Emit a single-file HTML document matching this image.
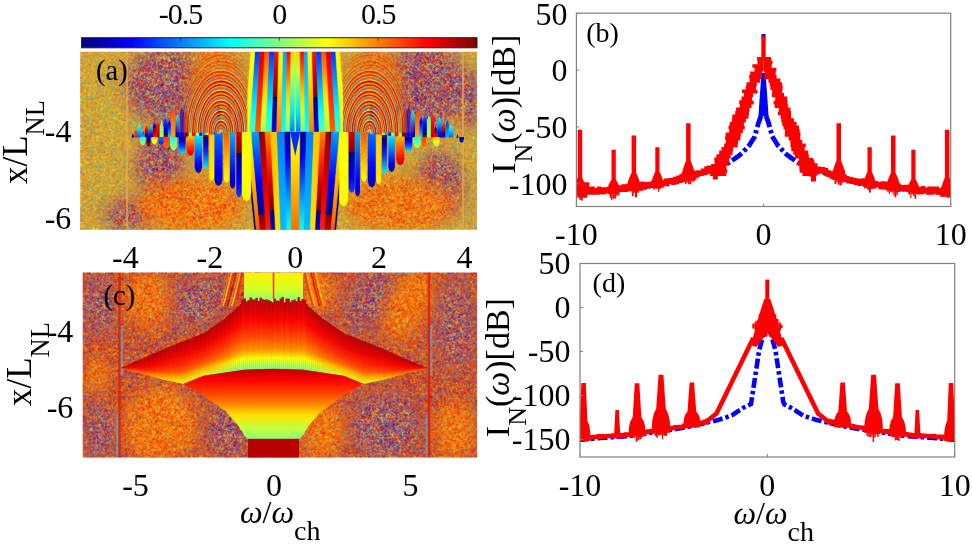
<!DOCTYPE html>
<html><head><meta charset="utf-8"><style>html,body{margin:0;padding:0;background:#fff;overflow:hidden}svg{display:block;will-change:transform;font-family:"Liberation Serif",serif}</style></head>
<body><svg width="972" height="544" viewBox="0 0 972 544" font-family="Liberation Serif"><defs><filter id="blur8" x="-50%" y="-50%" width="200%" height="200%"><feGaussianBlur stdDeviation="8"/></filter><filter id="blur4" x="-50%" y="-50%" width="200%" height="200%"><feGaussianBlur stdDeviation="4"/></filter><clipPath id="clipA"><rect x="80.2" y="51.8" width="396.8" height="177.89999999999998"/></clipPath><clipPath id="clipC"><rect x="82.7" y="272.5" width="394.40000000000003" height="185.10000000000002"/></clipPath><filter id="nP" x="0" y="0" width="100%" height="100%" color-interpolation-filters="sRGB"><feTurbulence type="fractalNoise" baseFrequency="0.75" numOctaves="1" seed="80"/><feColorMatrix type="matrix" values="2.6 0 0 0 -0.8 2.6 0 0 0 -0.8 2.6 0 0 0 -0.8 0 0 0 0 1"/><feComponentTransfer><feFuncR type="table" tableValues="0.00 0.00 1.00 1.00 0.75 0.50 0.63 0.38 1.00 1.00"/><feFuncG type="table" tableValues="0.00 0.75 0.88 0.13 0.19 0.38 0.00 0.31 1.00 0.38"/><feFuncB type="table" tableValues="0.75 1.00 0.00 0.00 0.31 0.82 0.00 0.75 0.25 0.00"/></feComponentTransfer><feConvolveMatrix order="3" kernelMatrix="0.05 0.1 0.05 0.1 0.4 0.1 0.05 0.1 0.05" edgeMode="duplicate"/></filter><filter id="nO" x="0" y="0" width="100%" height="100%" color-interpolation-filters="sRGB"><feTurbulence type="fractalNoise" baseFrequency="0.75" numOctaves="1" seed="79"/><feColorMatrix type="matrix" values="2.6 0 0 0 -0.8 2.6 0 0 0 -0.8 2.6 0 0 0 -0.8 0 0 0 0 1"/><feComponentTransfer><feFuncR type="table" tableValues="0.75 1.00 1.00 1.00 1.00 1.00 0.82 0.38"/><feFuncG type="table" tableValues="0.00 0.82 0.19 0.69 0.13 0.88 0.19 0.88"/><feFuncB type="table" tableValues="0.00 0.00 0.00 0.00 0.00 0.25 0.00 0.75"/></feComponentTransfer><feConvolveMatrix order="3" kernelMatrix="0.05 0.1 0.05 0.1 0.4 0.1 0.05 0.1 0.05" edgeMode="duplicate"/></filter><filter id="nY" x="0" y="0" width="100%" height="100%" color-interpolation-filters="sRGB"><feTurbulence type="fractalNoise" baseFrequency="0.75" numOctaves="1" seed="89"/><feColorMatrix type="matrix" values="2.6 0 0 0 -0.8 2.6 0 0 0 -0.8 2.6 0 0 0 -0.8 0 0 0 0 1"/><feComponentTransfer><feFuncR type="table" tableValues="1.00 0.75 1.00 0.38 1.00 0.88 0.63 1.00"/><feFuncG type="table" tableValues="0.82 0.50 0.69 0.75 0.50 0.88 0.38 0.63"/><feFuncB type="table" tableValues="0.00 0.25 0.00 0.63 0.00 0.25 0.38 0.13"/></feComponentTransfer><feConvolveMatrix order="3" kernelMatrix="0.05 0.1 0.05 0.1 0.4 0.1 0.05 0.1 0.05" edgeMode="duplicate"/></filter><filter id="nR" x="0" y="0" width="100%" height="100%" color-interpolation-filters="sRGB"><feTurbulence type="fractalNoise" baseFrequency="0.75" numOctaves="1" seed="82"/><feColorMatrix type="matrix" values="2.6 0 0 0 -0.8 2.6 0 0 0 -0.8 2.6 0 0 0 -0.8 0 0 0 0 1"/><feComponentTransfer><feFuncR type="table" tableValues="0.63 1.00 1.00 0.38 1.00 1.00 0.75 0.00"/><feFuncG type="table" tableValues="0.00 0.50 0.13 0.31 0.25 0.82 0.00 0.69"/><feFuncB type="table" tableValues="0.00 0.00 0.00 0.75 0.00 0.00 0.00 1.00"/></feComponentTransfer><feConvolveMatrix order="3" kernelMatrix="0.05 0.1 0.05 0.1 0.4 0.1 0.05 0.1 0.05" edgeMode="duplicate"/></filter><mask id="mPa" maskUnits="userSpaceOnUse" x="80.2" y="51.8" width="396.8" height="177.89999999999998"><g filter="url(#blur8)" fill="#fff"><ellipse cx="165" cy="85" rx="40" ry="40" transform="rotate(0 165 85)"/><ellipse cx="160" cy="165" rx="25" ry="35" transform="rotate(0 160 165)"/><ellipse cx="425" cy="85" rx="40" ry="45" transform="rotate(0 425 85)"/><ellipse cx="440" cy="185" rx="25" ry="35" transform="rotate(0 440 185)"/><ellipse cx="130" cy="215" rx="25" ry="18" transform="rotate(0 130 215)"/><ellipse cx="470" cy="100" rx="12" ry="30" transform="rotate(0 470 100)"/></g></mask><mask id="mOa" maskUnits="userSpaceOnUse" x="80.2" y="51.8" width="396.8" height="177.89999999999998"><g filter="url(#blur8)" fill="#fff"><ellipse cx="215" cy="80" rx="25" ry="35" transform="rotate(0 215 80)"/><ellipse cx="375" cy="80" rx="25" ry="35" transform="rotate(0 375 80)"/><ellipse cx="190" cy="205" rx="55" ry="28" transform="rotate(0 190 205)"/><ellipse cx="400" cy="205" rx="55" ry="28" transform="rotate(0 400 205)"/></g></mask><linearGradient id="g1" x1="0" y1="0" x2="0" y2="1"><stop offset="0.000" stop-color="#00aeff"/><stop offset="0.250" stop-color="#00b1ff"/><stop offset="0.500" stop-color="#00b4ff"/><stop offset="0.750" stop-color="#00b7ff"/><stop offset="1.000" stop-color="#00baff"/></linearGradient><linearGradient id="g2" x1="0" y1="0" x2="0" y2="1"><stop offset="0.000" stop-color="#ffbf00"/><stop offset="0.250" stop-color="#fffe00"/><stop offset="0.500" stop-color="#c1ff3d"/><stop offset="0.750" stop-color="#82ff7c"/><stop offset="1.000" stop-color="#43ffbb"/></linearGradient><linearGradient id="g3" x1="0" y1="0" x2="0" y2="1"><stop offset="0.000" stop-color="#000095"/><stop offset="0.250" stop-color="#0000b1"/><stop offset="0.500" stop-color="#0000cd"/><stop offset="0.750" stop-color="#0000e8"/><stop offset="1.000" stop-color="#0005ff"/></linearGradient><linearGradient id="g4" x1="0" y1="0" x2="0" y2="1"><stop offset="0.000" stop-color="#18ffe6"/><stop offset="0.250" stop-color="#00c3ff"/><stop offset="0.500" stop-color="#006fff"/><stop offset="0.750" stop-color="#001aff"/><stop offset="1.000" stop-color="#0000c5"/></linearGradient><linearGradient id="g5" x1="0" y1="0" x2="0" y2="1"><stop offset="0.000" stop-color="#ffcd00"/><stop offset="0.250" stop-color="#e5ff19"/><stop offset="0.500" stop-color="#9aff64"/><stop offset="0.750" stop-color="#4fffaf"/><stop offset="1.000" stop-color="#04fffa"/></linearGradient><linearGradient id="g6" x1="0" y1="0" x2="0" y2="1"><stop offset="0.000" stop-color="#870000"/><stop offset="0.250" stop-color="#c80000"/><stop offset="0.500" stop-color="#ff0a00"/><stop offset="0.750" stop-color="#ff4b00"/><stop offset="1.000" stop-color="#ff8c00"/></linearGradient><linearGradient id="g7" x1="0" y1="0" x2="0" y2="1"><stop offset="0.000" stop-color="#0076ff"/><stop offset="0.250" stop-color="#00a9ff"/><stop offset="0.500" stop-color="#00dbff"/><stop offset="0.750" stop-color="#0fffef"/><stop offset="1.000" stop-color="#41ffbd"/></linearGradient><linearGradient id="g8" x1="0" y1="0" x2="0" y2="1"><stop offset="0.000" stop-color="#ffe100"/><stop offset="0.250" stop-color="#ffb600"/><stop offset="0.500" stop-color="#ff8b00"/><stop offset="0.750" stop-color="#ff6000"/><stop offset="1.000" stop-color="#ff3600"/></linearGradient><linearGradient id="g9" x1="0" y1="0" x2="0" y2="1"><stop offset="0.000" stop-color="#810000"/><stop offset="0.005" stop-color="#800000"/><stop offset="0.007" stop-color="#00007f"/><stop offset="0.250" stop-color="#0000e2"/><stop offset="0.500" stop-color="#0049ff"/><stop offset="0.750" stop-color="#00afff"/><stop offset="1.000" stop-color="#16ffe8"/></linearGradient><linearGradient id="g10" x1="0" y1="0" x2="0" y2="1"><stop offset="0.000" stop-color="#00b6ff"/><stop offset="0.250" stop-color="#00a1ff"/><stop offset="0.500" stop-color="#008bff"/><stop offset="0.750" stop-color="#0076ff"/><stop offset="1.000" stop-color="#0060ff"/></linearGradient><linearGradient id="g11" x1="0" y1="0" x2="0" y2="1"><stop offset="0.000" stop-color="#ffd900"/><stop offset="0.250" stop-color="#ffb200"/><stop offset="0.500" stop-color="#ff8a00"/><stop offset="0.750" stop-color="#ff6200"/><stop offset="1.000" stop-color="#ff3b00"/></linearGradient><linearGradient id="g12" x1="0" y1="0" x2="0" y2="1"><stop offset="0.000" stop-color="#9b0000"/><stop offset="0.250" stop-color="#fe0000"/><stop offset="0.500" stop-color="#ff6100"/><stop offset="0.750" stop-color="#ffc400"/><stop offset="1.000" stop-color="#d7ff27"/></linearGradient><linearGradient id="g13" x1="0" y1="0" x2="0" y2="1"><stop offset="0.000" stop-color="#0035ff"/><stop offset="0.250" stop-color="#0054ff"/><stop offset="0.500" stop-color="#0072ff"/><stop offset="0.750" stop-color="#0091ff"/><stop offset="1.000" stop-color="#00b0ff"/></linearGradient><linearGradient id="g14" x1="0" y1="0" x2="0" y2="1"><stop offset="0.000" stop-color="#15ffe9"/><stop offset="0.250" stop-color="#00cfff"/><stop offset="0.500" stop-color="#008bff"/><stop offset="0.750" stop-color="#0046ff"/><stop offset="1.000" stop-color="#0002ff"/></linearGradient><linearGradient id="g15" x1="0" y1="0" x2="0" y2="1"><stop offset="0.000" stop-color="#ff9f00"/><stop offset="0.250" stop-color="#ffd200"/><stop offset="0.500" stop-color="#f8ff06"/><stop offset="0.750" stop-color="#c5ff39"/><stop offset="1.000" stop-color="#93ff6b"/></linearGradient><linearGradient id="g16" x1="0" y1="0" x2="0" y2="1"><stop offset="0.000" stop-color="#0000c6"/><stop offset="0.250" stop-color="#00008c"/><stop offset="0.306" stop-color="#00007f"/><stop offset="0.308" stop-color="#800000"/><stop offset="0.500" stop-color="#ac0000"/><stop offset="0.750" stop-color="#e60000"/><stop offset="1.000" stop-color="#ff2100"/></linearGradient><linearGradient id="g17" x1="0" y1="0" x2="0" y2="1"><stop offset="0.000" stop-color="#82ff7c"/><stop offset="0.250" stop-color="#81ff7d"/><stop offset="0.500" stop-color="#80ff7e"/><stop offset="0.750" stop-color="#7fff7f"/><stop offset="1.000" stop-color="#7eff80"/></linearGradient><linearGradient id="g18" x1="0" y1="0" x2="0" y2="1"><stop offset="0.000" stop-color="#ff0100"/><stop offset="0.250" stop-color="#e10000"/><stop offset="0.500" stop-color="#c20000"/><stop offset="0.750" stop-color="#a30000"/><stop offset="1.000" stop-color="#840000"/></linearGradient><linearGradient id="g19" x1="0" y1="0" x2="0" y2="1"><stop offset="0.000" stop-color="#0000d5"/><stop offset="0.250" stop-color="#0000e0"/><stop offset="0.500" stop-color="#0000ea"/><stop offset="0.750" stop-color="#0000f5"/><stop offset="1.000" stop-color="#0000ff"/></linearGradient><linearGradient id="g20" x1="0" y1="0" x2="0" y2="1"><stop offset="0.000" stop-color="#30ffce"/><stop offset="0.250" stop-color="#00ccff"/><stop offset="0.500" stop-color="#0069ff"/><stop offset="0.750" stop-color="#0006ff"/><stop offset="1.000" stop-color="#0000a3"/></linearGradient><linearGradient id="g21" x1="0" y1="0" x2="0" y2="1"><stop offset="0.000" stop-color="#ff4500"/><stop offset="0.250" stop-color="#ff5d00"/><stop offset="0.500" stop-color="#ff7600"/><stop offset="0.750" stop-color="#ff8e00"/><stop offset="1.000" stop-color="#ffa700"/></linearGradient><linearGradient id="g22" x1="0" y1="0" x2="0" y2="1"><stop offset="0.000" stop-color="#00008c"/><stop offset="0.250" stop-color="#0000e4"/><stop offset="0.500" stop-color="#003dff"/><stop offset="0.750" stop-color="#0094ff"/><stop offset="1.000" stop-color="#00ecff"/></linearGradient><linearGradient id="g23" x1="0" y1="0" x2="0" y2="1"><stop offset="0.000" stop-color="#0079ff"/><stop offset="0.250" stop-color="#0034ff"/><stop offset="0.500" stop-color="#0000ee"/><stop offset="0.750" stop-color="#0000a9"/><stop offset="0.900" stop-color="#00007f"/><stop offset="0.902" stop-color="#800000"/><stop offset="1.000" stop-color="#9a0000"/></linearGradient><linearGradient id="g24" x1="0" y1="0" x2="0" y2="1"><stop offset="0.000" stop-color="#6aff94"/><stop offset="0.250" stop-color="#78ff86"/><stop offset="0.500" stop-color="#87ff77"/><stop offset="0.750" stop-color="#95ff69"/><stop offset="1.000" stop-color="#a4ff5a"/></linearGradient><linearGradient id="g25" x1="0" y1="0" x2="0" y2="1"><stop offset="0.000" stop-color="#ff3400"/><stop offset="0.250" stop-color="#ff1700"/><stop offset="0.500" stop-color="#f80000"/><stop offset="0.750" stop-color="#db0000"/><stop offset="1.000" stop-color="#be0000"/></linearGradient><linearGradient id="g26" x1="0" y1="0" x2="0" y2="1"><stop offset="0.000" stop-color="#0000e4"/><stop offset="0.250" stop-color="#0000a4"/><stop offset="0.394" stop-color="#00007f"/><stop offset="0.396" stop-color="#800000"/><stop offset="0.500" stop-color="#9a0000"/><stop offset="0.750" stop-color="#d90000"/><stop offset="1.000" stop-color="#ff1a00"/></linearGradient><linearGradient id="g27" x1="0" y1="0" x2="0" y2="1"><stop offset="0.000" stop-color="#22ffdc"/><stop offset="0.250" stop-color="#00c8ff"/><stop offset="0.500" stop-color="#006fff"/><stop offset="0.750" stop-color="#0016ff"/><stop offset="1.000" stop-color="#0000bc"/></linearGradient><linearGradient id="g28" x1="0" y1="0" x2="0" y2="1"><stop offset="0.000" stop-color="#ff6900"/><stop offset="0.250" stop-color="#ff1900"/><stop offset="0.500" stop-color="#c80000"/><stop offset="0.729" stop-color="#800000"/><stop offset="0.731" stop-color="#00007f"/><stop offset="0.750" stop-color="#000085"/><stop offset="1.000" stop-color="#0000d5"/></linearGradient><linearGradient id="g29" x1="0" y1="0" x2="0" y2="1"><stop offset="0.000" stop-color="#002cff"/><stop offset="0.250" stop-color="#004eff"/><stop offset="0.500" stop-color="#0071ff"/><stop offset="0.750" stop-color="#0094ff"/><stop offset="1.000" stop-color="#00b6ff"/></linearGradient><linearGradient id="g30" x1="0" y1="0" x2="0" y2="1"><stop offset="0.000" stop-color="#4effb0"/><stop offset="0.250" stop-color="#11ffed"/><stop offset="0.500" stop-color="#00d4ff"/><stop offset="0.750" stop-color="#0097ff"/><stop offset="1.000" stop-color="#005aff"/></linearGradient><linearGradient id="g31" x1="0" y1="0" x2="0" y2="1"><stop offset="0.000" stop-color="#ff5600"/><stop offset="0.250" stop-color="#ff4300"/><stop offset="0.500" stop-color="#ff2f00"/><stop offset="0.750" stop-color="#ff1c00"/><stop offset="1.000" stop-color="#ff0800"/></linearGradient><linearGradient id="g32" x1="0" y1="0" x2="0" y2="1"><stop offset="0.000" stop-color="#0059ff"/><stop offset="0.250" stop-color="#0024ff"/><stop offset="0.500" stop-color="#0000ef"/><stop offset="0.750" stop-color="#0000ba"/><stop offset="1.000" stop-color="#000086"/></linearGradient><linearGradient id="g33" x1="0" y1="0" x2="0" y2="1"><stop offset="0.000" stop-color="#ffd200"/><stop offset="0.250" stop-color="#bfff3f"/><stop offset="0.500" stop-color="#53ffab"/><stop offset="0.750" stop-color="#00e6ff"/><stop offset="1.000" stop-color="#007aff"/></linearGradient><linearGradient id="g34" x1="0" y1="0" x2="0" y2="1"><stop offset="0.000" stop-color="#ff0000"/><stop offset="0.250" stop-color="#ff6300"/><stop offset="0.500" stop-color="#ffc500"/><stop offset="0.750" stop-color="#d5ff29"/><stop offset="1.000" stop-color="#73ff8b"/></linearGradient><linearGradient id="g35" x1="0" y1="0" x2="0" y2="1"><stop offset="0.000" stop-color="#00a2ff"/><stop offset="0.250" stop-color="#00beff"/><stop offset="0.500" stop-color="#00daff"/><stop offset="0.750" stop-color="#00f6ff"/><stop offset="1.000" stop-color="#13ffeb"/></linearGradient><linearGradient id="g36" x1="0" y1="0" x2="0" y2="1"><stop offset="0.000" stop-color="#ecff12"/><stop offset="0.250" stop-color="#ffec00"/><stop offset="0.500" stop-color="#ffc700"/><stop offset="0.750" stop-color="#ffa100"/><stop offset="1.000" stop-color="#ff7c00"/></linearGradient><linearGradient id="g37" x1="0" y1="0" x2="0" y2="1"><stop offset="0.000" stop-color="#ff1500"/><stop offset="0.250" stop-color="#d20000"/><stop offset="0.500" stop-color="#900000"/><stop offset="0.562" stop-color="#800000"/><stop offset="0.564" stop-color="#00007f"/><stop offset="0.750" stop-color="#0000b0"/><stop offset="1.000" stop-color="#0000f3"/></linearGradient><linearGradient id="g38" x1="0" y1="0" x2="0" y2="1"><stop offset="0.000" stop-color="#0034ff"/><stop offset="0.250" stop-color="#007dff"/><stop offset="0.500" stop-color="#00c5ff"/><stop offset="0.750" stop-color="#0fffef"/><stop offset="1.000" stop-color="#58ffa6"/></linearGradient><linearGradient id="g39" x1="0" y1="0" x2="0" y2="1"><stop offset="0.000" stop-color="#ff5300"/><stop offset="0.250" stop-color="#ff9700"/><stop offset="0.500" stop-color="#ffdb00"/><stop offset="0.750" stop-color="#deff20"/><stop offset="1.000" stop-color="#9aff64"/></linearGradient><linearGradient id="g40" x1="0" y1="0" x2="0" y2="1"><stop offset="0.000" stop-color="#db0000"/><stop offset="0.250" stop-color="#fd0000"/><stop offset="0.500" stop-color="#ff2000"/><stop offset="0.750" stop-color="#ff4100"/><stop offset="1.000" stop-color="#ff6300"/></linearGradient><linearGradient id="g41" x1="0" y1="0" x2="0" y2="1"><stop offset="0.000" stop-color="#0034ff"/><stop offset="0.250" stop-color="#0079ff"/><stop offset="0.500" stop-color="#00bfff"/><stop offset="0.750" stop-color="#05fff9"/><stop offset="1.000" stop-color="#4affb4"/></linearGradient><linearGradient id="g42" x1="0" y1="0" x2="0" y2="1"><stop offset="0.000" stop-color="#fcff02"/><stop offset="0.250" stop-color="#f4ff0a"/><stop offset="0.500" stop-color="#edff11"/><stop offset="0.750" stop-color="#e5ff19"/><stop offset="1.000" stop-color="#ddff21"/></linearGradient><clipPath id="domeclip"><path d="M80.0,40.0 L247.2,40.0 L247.2,132.5 L80.0,132.5Z M510.0,40.0 L343.2,40.0 L343.2,132.5 L510.0,132.5Z"/></clipPath><linearGradient id="g43" x1="0" y1="0" x2="0" y2="1"><stop offset="0.000" stop-color="#e9ff15"/><stop offset="0.250" stop-color="#ffe900"/><stop offset="0.500" stop-color="#ffbe00"/><stop offset="0.750" stop-color="#ff9300"/><stop offset="1.000" stop-color="#ff6800"/></linearGradient><linearGradient id="g44" x1="0" y1="0" x2="0" y2="1"><stop offset="0.000" stop-color="#000095"/><stop offset="0.250" stop-color="#0000f8"/><stop offset="0.500" stop-color="#005bff"/><stop offset="0.750" stop-color="#00beff"/><stop offset="1.000" stop-color="#21ffdd"/></linearGradient><linearGradient id="g45" x1="0" y1="0" x2="0" y2="1"><stop offset="0.000" stop-color="#0081ff"/><stop offset="0.250" stop-color="#0090ff"/><stop offset="0.500" stop-color="#00a0ff"/><stop offset="0.750" stop-color="#00afff"/><stop offset="1.000" stop-color="#00bfff"/></linearGradient><linearGradient id="g46" x1="0" y1="0" x2="0" y2="1"><stop offset="0.000" stop-color="#ffc400"/><stop offset="0.250" stop-color="#ffcb00"/><stop offset="0.500" stop-color="#ffd100"/><stop offset="0.750" stop-color="#ffd800"/><stop offset="1.000" stop-color="#ffde00"/></linearGradient><linearGradient id="g47" x1="0" y1="0" x2="0" y2="1"><stop offset="0.000" stop-color="#ff8400"/><stop offset="0.250" stop-color="#ff3100"/><stop offset="0.500" stop-color="#dc0000"/><stop offset="0.750" stop-color="#890000"/><stop offset="0.779" stop-color="#800000"/><stop offset="0.781" stop-color="#00007f"/><stop offset="1.000" stop-color="#0000c8"/></linearGradient><linearGradient id="g48" x1="0" y1="0" x2="0" y2="1"><stop offset="0.000" stop-color="#8d0000"/><stop offset="0.250" stop-color="#b20000"/><stop offset="0.500" stop-color="#d70000"/><stop offset="0.750" stop-color="#fc0000"/><stop offset="1.000" stop-color="#ff2100"/></linearGradient><linearGradient id="g49" x1="0" y1="0" x2="0" y2="1"><stop offset="0.000" stop-color="#00a1ff"/><stop offset="0.250" stop-color="#004aff"/><stop offset="0.500" stop-color="#0000f1"/><stop offset="0.750" stop-color="#000099"/><stop offset="0.824" stop-color="#00007f"/><stop offset="0.826" stop-color="#800000"/><stop offset="1.000" stop-color="#bc0000"/></linearGradient><linearGradient id="g50" x1="0" y1="0" x2="0" y2="1"><stop offset="0.000" stop-color="#ebff13"/><stop offset="0.250" stop-color="#ffe300"/><stop offset="0.500" stop-color="#ffb400"/><stop offset="0.750" stop-color="#ff8500"/><stop offset="1.000" stop-color="#ff5600"/></linearGradient><linearGradient id="g51" x1="0" y1="0" x2="0" y2="1"><stop offset="0.000" stop-color="#830000"/><stop offset="0.153" stop-color="#800000"/><stop offset="0.155" stop-color="#00007f"/><stop offset="0.250" stop-color="#000082"/><stop offset="0.500" stop-color="#000089"/><stop offset="0.750" stop-color="#00008f"/><stop offset="1.000" stop-color="#000096"/></linearGradient><linearGradient id="g52" x1="0" y1="0" x2="0" y2="1"><stop offset="0.000" stop-color="#f4ff0a"/><stop offset="0.250" stop-color="#f9ff05"/><stop offset="0.500" stop-color="#feff00"/><stop offset="0.750" stop-color="#fffa00"/><stop offset="1.000" stop-color="#fff600"/></linearGradient><linearGradient id="g53" x1="0" y1="0" x2="0" y2="1"><stop offset="0.000" stop-color="#db0000"/><stop offset="0.250" stop-color="#940000"/><stop offset="0.325" stop-color="#800000"/><stop offset="0.327" stop-color="#00007f"/><stop offset="0.500" stop-color="#0000b0"/><stop offset="0.750" stop-color="#0000f6"/><stop offset="1.000" stop-color="#003eff"/></linearGradient><linearGradient id="g54" x1="0" y1="0" x2="0" y2="1"><stop offset="0.000" stop-color="#00aeff"/><stop offset="0.250" stop-color="#0072ff"/><stop offset="0.500" stop-color="#0035ff"/><stop offset="0.750" stop-color="#0000f8"/><stop offset="1.000" stop-color="#0000bb"/></linearGradient><linearGradient id="g55" x1="0" y1="0" x2="0" y2="1"><stop offset="0.000" stop-color="#ff5500"/><stop offset="0.250" stop-color="#ff8300"/><stop offset="0.500" stop-color="#ffb100"/><stop offset="0.750" stop-color="#ffde00"/><stop offset="1.000" stop-color="#f1ff0d"/></linearGradient><linearGradient id="g56" x1="0" y1="0" x2="0" y2="1"><stop offset="0.000" stop-color="#006dff"/><stop offset="0.250" stop-color="#0042ff"/><stop offset="0.500" stop-color="#0017ff"/><stop offset="0.750" stop-color="#0000eb"/><stop offset="1.000" stop-color="#0000bf"/></linearGradient><linearGradient id="g57" x1="0" y1="0" x2="0" y2="1"><stop offset="0.000" stop-color="#ffcb00"/><stop offset="0.250" stop-color="#ffd400"/><stop offset="0.500" stop-color="#ffde00"/><stop offset="0.750" stop-color="#ffe700"/><stop offset="1.000" stop-color="#fff100"/></linearGradient><linearGradient id="g58" x1="0" y1="0" x2="0" y2="1"><stop offset="0.000" stop-color="#950000"/><stop offset="0.055" stop-color="#800000"/><stop offset="0.057" stop-color="#00007f"/><stop offset="0.250" stop-color="#0000cc"/><stop offset="0.500" stop-color="#002fff"/><stop offset="0.750" stop-color="#0092ff"/><stop offset="1.000" stop-color="#00f5ff"/></linearGradient><linearGradient id="g59" x1="0" y1="0" x2="0" y2="1"><stop offset="0.000" stop-color="#00eeff"/><stop offset="0.250" stop-color="#00a0ff"/><stop offset="0.500" stop-color="#0051ff"/><stop offset="0.750" stop-color="#0002ff"/><stop offset="1.000" stop-color="#0000b3"/></linearGradient><linearGradient id="g60" x1="0" y1="0" x2="0" y2="1"><stop offset="0.000" stop-color="#ffba00"/><stop offset="0.250" stop-color="#ff7e00"/><stop offset="0.500" stop-color="#ff4300"/><stop offset="0.750" stop-color="#ff0800"/><stop offset="1.000" stop-color="#cb0000"/></linearGradient><linearGradient id="g61" x1="0" y1="0" x2="0" y2="1"><stop offset="0.000" stop-color="#850000"/><stop offset="0.015" stop-color="#800000"/><stop offset="0.017" stop-color="#00007f"/><stop offset="0.250" stop-color="#0000da"/><stop offset="0.500" stop-color="#003dff"/><stop offset="0.750" stop-color="#009eff"/><stop offset="1.000" stop-color="#01fffd"/></linearGradient><linearGradient id="g62" x1="0" y1="0" x2="0" y2="1"><stop offset="0.000" stop-color="#0afff4"/><stop offset="0.250" stop-color="#38ffc6"/><stop offset="0.500" stop-color="#66ff98"/><stop offset="0.750" stop-color="#93ff6b"/><stop offset="1.000" stop-color="#c1ff3d"/></linearGradient><linearGradient id="g63" x1="0" y1="0" x2="0" y2="1"><stop offset="0.000" stop-color="#ff3b00"/><stop offset="0.250" stop-color="#ff4900"/><stop offset="0.500" stop-color="#ff5700"/><stop offset="0.750" stop-color="#ff6500"/><stop offset="1.000" stop-color="#ff7300"/></linearGradient><linearGradient id="g64" x1="0" y1="0" x2="0" y2="1"><stop offset="0.000" stop-color="#0075ff"/><stop offset="0.250" stop-color="#005eff"/><stop offset="0.500" stop-color="#0046ff"/><stop offset="0.750" stop-color="#002eff"/><stop offset="1.000" stop-color="#0016ff"/></linearGradient><linearGradient id="g65" x1="0" y1="0" x2="0" y2="1"><stop offset="0.000" stop-color="#ffae00"/><stop offset="0.250" stop-color="#ffdd00"/><stop offset="0.500" stop-color="#f1ff0d"/><stop offset="0.750" stop-color="#c2ff3c"/><stop offset="1.000" stop-color="#94ff6a"/></linearGradient><linearGradient id="g66" x1="0" y1="0" x2="0" y2="1"><stop offset="0.000" stop-color="#0000a1"/><stop offset="0.250" stop-color="#000092"/><stop offset="0.500" stop-color="#000082"/><stop offset="0.550" stop-color="#00007f"/><stop offset="0.552" stop-color="#800000"/><stop offset="0.750" stop-color="#8b0000"/><stop offset="1.000" stop-color="#9b0000"/></linearGradient><linearGradient id="g67" x1="0" y1="0" x2="0" y2="1"><stop offset="0.000" stop-color="#12ffec"/><stop offset="0.250" stop-color="#39ffc5"/><stop offset="0.500" stop-color="#61ff9d"/><stop offset="0.750" stop-color="#88ff76"/><stop offset="1.000" stop-color="#b0ff4e"/></linearGradient><linearGradient id="g68" x1="0" y1="0" x2="0" y2="1"><stop offset="0.000" stop-color="#ffb100"/><stop offset="0.250" stop-color="#ff7c00"/><stop offset="0.500" stop-color="#ff4700"/><stop offset="0.750" stop-color="#ff1200"/><stop offset="1.000" stop-color="#dd0000"/></linearGradient><linearGradient id="g69" x1="0" y1="0" x2="0" y2="1"><stop offset="0.000" stop-color="#0000b8"/><stop offset="0.250" stop-color="#0000cd"/><stop offset="0.500" stop-color="#0000e2"/><stop offset="0.750" stop-color="#0000f6"/><stop offset="1.000" stop-color="#000cff"/></linearGradient><mask id="mPc" maskUnits="userSpaceOnUse" x="82.7" y="272.5" width="394.40000000000003" height="185.10000000000002"><g filter="url(#blur8)" fill="#fff"><ellipse cx="100" cy="305" rx="16" ry="30" transform="rotate(0 100 305)"/><ellipse cx="100" cy="430" rx="16" ry="28" transform="rotate(0 100 430)"/><ellipse cx="200" cy="300" rx="32" ry="22" transform="rotate(-20 200 300)"/><ellipse cx="228" cy="428" rx="22" ry="32" transform="rotate(0 228 428)"/><ellipse cx="370" cy="300" rx="22" ry="35" transform="rotate(25 370 300)"/><ellipse cx="385" cy="425" rx="35" ry="35" transform="rotate(0 385 425)"/><ellipse cx="455" cy="325" rx="20" ry="45" transform="rotate(0 455 325)"/></g></mask><mask id="mYc" maskUnits="userSpaceOnUse" x="82.7" y="272.5" width="394.40000000000003" height="185.10000000000002"><g filter="url(#blur8)" fill="#fff"><ellipse cx="148" cy="300" rx="22" ry="30" transform="rotate(0 148 300)"/><ellipse cx="160" cy="425" rx="38" ry="38" transform="rotate(0 160 425)"/></g></mask><mask id="mOc" maskUnits="userSpaceOnUse" x="82.7" y="272.5" width="394.40000000000003" height="185.10000000000002"><g filter="url(#blur8)" fill="#fff"><ellipse cx="98" cy="375" rx="14" ry="18" transform="rotate(0 98 375)"/><ellipse cx="322" cy="430" rx="22" ry="30" transform="rotate(0 322 430)"/><ellipse cx="408" cy="305" rx="20" ry="40" transform="rotate(25 408 305)"/><ellipse cx="455" cy="430" rx="20" ry="30" transform="rotate(0 455 430)"/><ellipse cx="318" cy="290" rx="18" ry="22" transform="rotate(25 318 290)"/></g></mask><linearGradient id="g70" gradientUnits="userSpaceOnUse" x1="0" y1="272" x2="0" y2="302"><stop offset="0.000" stop-color="#fff000"/><stop offset="0.600" stop-color="#d2ff28"/><stop offset="1.000" stop-color="#82ff78"/></linearGradient><linearGradient id="g71" x1="0" y1="0" x2="0" y2="1"><stop offset="0.000" stop-color="#b20000"/><stop offset="0.300" stop-color="#d40000"/><stop offset="0.550" stop-color="#f60000"/><stop offset="0.720" stop-color="#ff1700"/><stop offset="0.840" stop-color="#ff4600"/><stop offset="1.000" stop-color="#ff7f00"/></linearGradient><linearGradient id="g72" x1="0" y1="0" x2="0" y2="1"><stop offset="0.000" stop-color="#b20000"/><stop offset="0.300" stop-color="#d50000"/><stop offset="0.550" stop-color="#f80000"/><stop offset="0.720" stop-color="#ff1a00"/><stop offset="0.840" stop-color="#ff4c00"/><stop offset="1.000" stop-color="#ff8600"/></linearGradient><linearGradient id="g73" x1="0" y1="0" x2="0" y2="1"><stop offset="0.000" stop-color="#b20000"/><stop offset="0.300" stop-color="#d80000"/><stop offset="0.550" stop-color="#fd0000"/><stop offset="0.720" stop-color="#ff2200"/><stop offset="0.840" stop-color="#ff5700"/><stop offset="1.000" stop-color="#ff9600"/></linearGradient><linearGradient id="g74" x1="0" y1="0" x2="0" y2="1"><stop offset="0.000" stop-color="#b20000"/><stop offset="0.300" stop-color="#d90000"/><stop offset="0.550" stop-color="#ff0100"/><stop offset="0.720" stop-color="#ff2600"/><stop offset="0.840" stop-color="#ff5c00"/><stop offset="1.000" stop-color="#ff9d00"/></linearGradient><linearGradient id="g75" x1="0" y1="0" x2="0" y2="1"><stop offset="0.000" stop-color="#b20000"/><stop offset="0.300" stop-color="#da0000"/><stop offset="0.550" stop-color="#ff0400"/><stop offset="0.720" stop-color="#ff2900"/><stop offset="0.840" stop-color="#ff6200"/><stop offset="1.000" stop-color="#ffa500"/></linearGradient><linearGradient id="g76" x1="0" y1="0" x2="0" y2="1"><stop offset="0.000" stop-color="#b20000"/><stop offset="0.300" stop-color="#dc0000"/><stop offset="0.550" stop-color="#ff0600"/><stop offset="0.720" stop-color="#ff2d00"/><stop offset="0.840" stop-color="#ff6800"/><stop offset="1.000" stop-color="#ffad00"/></linearGradient><linearGradient id="g77" x1="0" y1="0" x2="0" y2="1"><stop offset="0.000" stop-color="#b20000"/><stop offset="0.300" stop-color="#de0000"/><stop offset="0.550" stop-color="#ff0c00"/><stop offset="0.720" stop-color="#ff3500"/><stop offset="0.840" stop-color="#ff7300"/><stop offset="1.000" stop-color="#ffbd00"/></linearGradient><linearGradient id="g78" x1="0" y1="0" x2="0" y2="1"><stop offset="0.000" stop-color="#b20000"/><stop offset="0.300" stop-color="#e00000"/><stop offset="0.550" stop-color="#ff0e00"/><stop offset="0.720" stop-color="#ff3900"/><stop offset="0.840" stop-color="#ff7900"/><stop offset="1.000" stop-color="#ffc500"/></linearGradient><linearGradient id="g79" x1="0" y1="0" x2="0" y2="1"><stop offset="0.000" stop-color="#b20000"/><stop offset="0.300" stop-color="#e10000"/><stop offset="0.550" stop-color="#ff1100"/><stop offset="0.720" stop-color="#ff3d00"/><stop offset="0.840" stop-color="#ff7e00"/><stop offset="1.000" stop-color="#ffcc00"/></linearGradient><linearGradient id="g80" x1="0" y1="0" x2="0" y2="1"><stop offset="0.000" stop-color="#b20000"/><stop offset="0.300" stop-color="#e30000"/><stop offset="0.550" stop-color="#ff1600"/><stop offset="0.720" stop-color="#ff4400"/><stop offset="0.840" stop-color="#ff8900"/><stop offset="1.000" stop-color="#ffdb00"/></linearGradient><linearGradient id="g81" x1="0" y1="0" x2="0" y2="1"><stop offset="0.000" stop-color="#b20000"/><stop offset="0.300" stop-color="#e40000"/><stop offset="0.550" stop-color="#ff1800"/><stop offset="0.720" stop-color="#ff4700"/><stop offset="0.840" stop-color="#ff8d00"/><stop offset="1.000" stop-color="#ffe100"/></linearGradient><linearGradient id="g82" x1="0" y1="0" x2="0" y2="1"><stop offset="0.000" stop-color="#b20000"/><stop offset="0.300" stop-color="#e70000"/><stop offset="0.550" stop-color="#ff1c00"/><stop offset="0.720" stop-color="#ff4d00"/><stop offset="0.840" stop-color="#ff9700"/><stop offset="1.000" stop-color="#ffee00"/></linearGradient><linearGradient id="g83" x1="0" y1="0" x2="0" y2="1"><stop offset="0.000" stop-color="#b20000"/><stop offset="0.300" stop-color="#e80000"/><stop offset="0.550" stop-color="#ff1e00"/><stop offset="0.720" stop-color="#ff5000"/><stop offset="0.840" stop-color="#ff9b00"/><stop offset="1.000" stop-color="#fff500"/></linearGradient><linearGradient id="g84" x1="0" y1="0" x2="0" y2="1"><stop offset="0.000" stop-color="#b20000"/><stop offset="0.300" stop-color="#ea0000"/><stop offset="0.550" stop-color="#ff2200"/><stop offset="0.720" stop-color="#ff5600"/><stop offset="0.840" stop-color="#ffa400"/><stop offset="1.000" stop-color="#fcff02"/></linearGradient><linearGradient id="g85" x1="0" y1="0" x2="0" y2="1"><stop offset="0.000" stop-color="#b20000"/><stop offset="0.300" stop-color="#ec0000"/><stop offset="0.550" stop-color="#ff2700"/><stop offset="0.720" stop-color="#ff5d00"/><stop offset="0.840" stop-color="#ffae00"/><stop offset="1.000" stop-color="#efff0f"/></linearGradient><linearGradient id="g86" x1="0" y1="0" x2="0" y2="1"><stop offset="0.000" stop-color="#b20000"/><stop offset="0.300" stop-color="#ed0000"/><stop offset="0.550" stop-color="#ff2900"/><stop offset="0.720" stop-color="#ff6000"/><stop offset="0.840" stop-color="#ffb200"/><stop offset="1.000" stop-color="#e9ff15"/></linearGradient><linearGradient id="g87" x1="0" y1="0" x2="0" y2="1"><stop offset="0.000" stop-color="#b20000"/><stop offset="0.300" stop-color="#ef0000"/><stop offset="0.550" stop-color="#ff2c00"/><stop offset="0.720" stop-color="#ff6500"/><stop offset="0.840" stop-color="#ffb900"/><stop offset="1.000" stop-color="#dfff1f"/></linearGradient><linearGradient id="g88" x1="0" y1="0" x2="0" y2="1"><stop offset="0.000" stop-color="#b20000"/><stop offset="0.300" stop-color="#f10000"/><stop offset="0.550" stop-color="#ff3000"/><stop offset="0.720" stop-color="#ff6a00"/><stop offset="0.840" stop-color="#ffc200"/><stop offset="1.000" stop-color="#d3ff2b"/></linearGradient><linearGradient id="g89" x1="0" y1="0" x2="0" y2="1"><stop offset="0.000" stop-color="#b20000"/><stop offset="0.300" stop-color="#f30000"/><stop offset="0.550" stop-color="#ff3400"/><stop offset="0.720" stop-color="#ff7000"/><stop offset="0.840" stop-color="#ffca00"/><stop offset="1.000" stop-color="#c7ff37"/></linearGradient><linearGradient id="g90" x1="0" y1="0" x2="0" y2="1"><stop offset="0.000" stop-color="#b20000"/><stop offset="0.300" stop-color="#f40000"/><stop offset="0.550" stop-color="#ff3600"/><stop offset="0.720" stop-color="#ff7300"/><stop offset="0.840" stop-color="#ffcf00"/><stop offset="1.000" stop-color="#c1ff3d"/></linearGradient><linearGradient id="g91" x1="0" y1="0" x2="0" y2="1"><stop offset="0.000" stop-color="#b20000"/><stop offset="0.300" stop-color="#f60000"/><stop offset="0.550" stop-color="#ff3a00"/><stop offset="0.720" stop-color="#ff7900"/><stop offset="0.840" stop-color="#ffd700"/><stop offset="1.000" stop-color="#b5ff49"/></linearGradient><linearGradient id="g92" x1="0" y1="0" x2="0" y2="1"><stop offset="0.000" stop-color="#b20000"/><stop offset="0.300" stop-color="#f80000"/><stop offset="0.550" stop-color="#ff3e00"/><stop offset="0.720" stop-color="#ff7f00"/><stop offset="0.840" stop-color="#ffe000"/><stop offset="1.000" stop-color="#a9ff55"/></linearGradient><linearGradient id="g93" x1="0" y1="0" x2="0" y2="1"><stop offset="0.000" stop-color="#b20000"/><stop offset="0.300" stop-color="#f90000"/><stop offset="0.550" stop-color="#ff4000"/><stop offset="0.720" stop-color="#ff8200"/><stop offset="0.840" stop-color="#ffe500"/><stop offset="1.000" stop-color="#a2ff5c"/></linearGradient><linearGradient id="g94" x1="0" y1="0" x2="0" y2="1"><stop offset="0.000" stop-color="#b20000"/><stop offset="0.300" stop-color="#fb0000"/><stop offset="0.550" stop-color="#ff4500"/><stop offset="0.720" stop-color="#ff8a00"/><stop offset="0.840" stop-color="#fff000"/><stop offset="1.000" stop-color="#93ff6b"/></linearGradient><linearGradient id="g95" x1="0" y1="0" x2="0" y2="1"><stop offset="0.000" stop-color="#b20000"/><stop offset="0.300" stop-color="#fd0000"/><stop offset="0.550" stop-color="#ff4800"/><stop offset="0.720" stop-color="#ff8d00"/><stop offset="0.840" stop-color="#fff500"/><stop offset="1.000" stop-color="#8cff72"/></linearGradient><linearGradient id="g96" x1="0" y1="0" x2="0" y2="1"><stop offset="0.000" stop-color="#b20000"/><stop offset="0.300" stop-color="#ff0000"/><stop offset="0.550" stop-color="#ff4c00"/><stop offset="0.720" stop-color="#ff9300"/><stop offset="0.840" stop-color="#fffe00"/><stop offset="1.000" stop-color="#7fff7f"/></linearGradient><linearGradient id="g97" gradientUnits="userSpaceOnUse" x1="0" y1="369" x2="0" y2="439"><stop offset="0.000" stop-color="#b80000"/><stop offset="0.160" stop-color="#ff0000"/><stop offset="0.370" stop-color="#ff4a00"/><stop offset="0.520" stop-color="#ff9000"/><stop offset="0.660" stop-color="#ffe000"/><stop offset="0.850" stop-color="#c0ff40"/><stop offset="1.000" stop-color="#8cff74"/></linearGradient><clipPath id="clipB"><rect x="576.4" y="13.2" width="374.30000000000007" height="193.3"/></clipPath><clipPath id="clipD"><rect x="580" y="263.5" width="374.70000000000005" height="193.5"/></clipPath><linearGradient id="jet" x1="0" x2="1" y1="0" y2="0"><stop offset="0.0000" stop-color="#00007f"/><stop offset="0.0312" stop-color="#00009f"/><stop offset="0.0625" stop-color="#0000bf"/><stop offset="0.0938" stop-color="#0000df"/><stop offset="0.1250" stop-color="#0000ff"/><stop offset="0.1562" stop-color="#001fff"/><stop offset="0.1875" stop-color="#003fff"/><stop offset="0.2188" stop-color="#005fff"/><stop offset="0.2500" stop-color="#007fff"/><stop offset="0.2812" stop-color="#009fff"/><stop offset="0.3125" stop-color="#00bfff"/><stop offset="0.3438" stop-color="#00dfff"/><stop offset="0.3750" stop-color="#00ffff"/><stop offset="0.4062" stop-color="#1fffdf"/><stop offset="0.4375" stop-color="#3fffbf"/><stop offset="0.4688" stop-color="#5fff9f"/><stop offset="0.5000" stop-color="#7fff7f"/><stop offset="0.5312" stop-color="#9fff5f"/><stop offset="0.5625" stop-color="#bfff3f"/><stop offset="0.5938" stop-color="#dfff1f"/><stop offset="0.6250" stop-color="#ffff00"/><stop offset="0.6562" stop-color="#ffdf00"/><stop offset="0.6875" stop-color="#ffbf00"/><stop offset="0.7188" stop-color="#ff9f00"/><stop offset="0.7500" stop-color="#ff7f00"/><stop offset="0.7812" stop-color="#ff5f00"/><stop offset="0.8125" stop-color="#ff3f00"/><stop offset="0.8438" stop-color="#ff1f00"/><stop offset="0.8750" stop-color="#ff0000"/><stop offset="0.9062" stop-color="#df0000"/><stop offset="0.9375" stop-color="#bf0000"/><stop offset="0.9688" stop-color="#9f0000"/><stop offset="1.0000" stop-color="#7f0000"/></linearGradient></defs><g clip-path="url(#clipA)"><rect x="80.2" y="51.8" width="396.8" height="177.89999999999998" filter="url(#nY)"/><g mask="url(#mPa)"><rect x="80.2" y="51.8" width="396.8" height="177.89999999999998" filter="url(#nP)"/></g><g mask="url(#mOa)"><rect x="80.2" y="51.8" width="396.8" height="177.89999999999998" filter="url(#nO)"/></g><rect x="126" y="51.8" width="2" height="177.89999999999998" fill="#e6aa50" opacity="0.7"/><rect x="462" y="51.8" width="2" height="177.89999999999998" fill="#e6aa50" opacity="0.7"/><path d="M246.7,115.9 L248.8,109.4 L251.0,115.9 L251.0,132.5 L246.7,132.5Z" fill="url(#g1)"/><path d="M339.4,113.8 L341.6,107.3 L343.7,113.8 L343.7,132.5 L339.4,132.5Z" fill="url(#g1)"/><path d="M242.7,114.5 L244.7,108.5 L246.7,114.5 L246.7,132.5 L242.7,132.5Z" fill="url(#g2)"/><path d="M343.7,107.1 L345.7,101.1 L347.7,107.1 L347.7,132.5 L343.7,132.5Z" fill="url(#g2)"/><path d="M238.0,114.5 L240.3,107.6 L242.7,114.5 L242.7,132.5 L238.0,132.5Z" fill="url(#g3)"/><path d="M347.7,118.7 L350.1,111.8 L352.4,118.7 L352.4,132.5 L347.7,132.5Z" fill="url(#g3)"/><path d="M234.1,111.0 L236.0,105.1 L238.0,111.0 L238.0,132.5 L234.1,132.5Z" fill="url(#g4)"/><path d="M352.4,107.3 L354.4,101.3 L356.3,107.3 L356.3,132.5 L352.4,132.5Z" fill="url(#g4)"/><path d="M231.4,115.5 L232.7,111.5 L234.1,115.5 L234.1,132.7 L231.4,132.7Z" fill="url(#g5)"/><path d="M356.3,112.1 L357.7,108.1 L359.0,112.1 L359.0,132.7 L356.3,132.7Z" fill="url(#g5)"/><path d="M227.2,108.6 L229.3,102.4 L231.4,108.6 L231.4,133.1 L227.2,133.1Z" fill="url(#g6)"/><path d="M359.0,114.3 L361.1,108.1 L363.2,114.3 L363.2,133.1 L359.0,133.1Z" fill="url(#g6)"/><path d="M223.8,117.0 L225.5,111.9 L227.2,117.0 L227.2,133.5 L223.8,133.5Z" fill="url(#g7)"/><path d="M363.2,107.6 L364.9,102.5 L366.6,107.6 L366.6,133.5 L363.2,133.5Z" fill="url(#g7)"/><path d="M220.5,115.6 L222.2,110.6 L223.8,115.6 L223.8,133.8 L220.5,133.8Z" fill="url(#g8)"/><path d="M366.6,113.8 L368.2,108.7 L369.9,113.8 L369.9,133.8 L366.6,133.8Z" fill="url(#g8)"/><path d="M216.9,108.6 L218.7,103.3 L220.5,108.6 L220.5,134.2 L216.9,134.2Z" fill="url(#g9)"/><path d="M369.9,108.2 L371.7,102.9 L373.5,108.2 L373.5,134.2 L369.9,134.2Z" fill="url(#g9)"/><path d="M212.9,118.6 L214.9,112.5 L216.9,118.6 L216.9,134.5 L212.9,134.5Z" fill="url(#g10)"/><path d="M373.5,111.2 L375.5,105.1 L377.5,111.2 L377.5,134.5 L373.5,134.5Z" fill="url(#g10)"/><path d="M208.5,113.3 L210.7,106.7 L212.9,113.3 L212.9,135.0 L208.5,135.0Z" fill="url(#g11)"/><path d="M377.5,115.9 L379.7,109.3 L381.9,115.9 L381.9,135.0 L377.5,135.0Z" fill="url(#g11)"/><path d="M205.6,111.4 L207.1,107.1 L208.5,111.4 L208.5,135.3 L205.6,135.3Z" fill="url(#g12)"/><path d="M381.9,106.1 L383.3,101.8 L384.8,106.1 L384.8,135.3 L381.9,135.3Z" fill="url(#g12)"/><path d="M202.0,110.8 L203.8,105.2 L205.6,110.8 L205.6,135.6 L202.0,135.6Z" fill="url(#g13)"/><path d="M384.8,113.3 L386.6,107.8 L388.4,113.3 L388.4,135.6 L384.8,135.6Z" fill="url(#g13)"/><path d="M199.1,115.8 L200.5,111.5 L202.0,115.8 L202.0,136.0 L199.1,136.0Z" fill="url(#g14)"/><path d="M388.4,113.9 L389.9,109.7 L391.3,113.9 L391.3,136.0 L388.4,136.0Z" fill="url(#g14)"/><path d="M195.7,113.0 L197.4,107.8 L199.1,113.0 L199.1,136.3 L195.7,136.3Z" fill="url(#g15)"/><path d="M391.3,110.1 L393.0,105.0 L394.7,110.1 L394.7,136.3 L391.3,136.3Z" fill="url(#g15)"/><path d="M191.8,118.2 L193.8,112.4 L195.7,118.2 L195.7,136.6 L191.8,136.6Z" fill="url(#g16)"/><path d="M394.7,111.0 L396.6,105.2 L398.6,111.0 L398.6,136.6 L394.7,136.6Z" fill="url(#g16)"/><path d="M188.5,117.0 L190.2,112.0 L191.8,117.0 L191.8,137.0 L188.5,137.0Z" fill="url(#g17)"/><path d="M398.6,114.3 L400.2,109.3 L401.9,114.3 L401.9,137.0 L398.6,137.0Z" fill="url(#g17)"/><path d="M184.2,116.7 L186.3,110.3 L188.5,116.7 L188.5,137.4 L184.2,137.4Z" fill="url(#g18)"/><path d="M401.9,114.7 L404.1,108.2 L406.2,114.7 L406.2,137.4 L401.9,137.4Z" fill="url(#g18)"/><path d="M179.8,113.2 L182.0,106.5 L184.2,113.2 L184.2,137.5 L179.8,137.5Z" fill="url(#g19)"/><path d="M406.2,112.8 L408.4,106.1 L410.6,112.8 L410.6,137.5 L406.2,137.5Z" fill="url(#g19)"/><path d="M175.3,120.1 L177.6,113.4 L179.8,120.1 L179.8,137.5 L175.3,137.5Z" fill="url(#g20)"/><path d="M410.6,115.7 L412.8,109.0 L415.1,115.7 L415.1,137.5 L410.6,137.5Z" fill="url(#g20)"/><path d="M170.8,114.3 L173.1,107.5 L175.3,114.3 L175.3,137.5 L170.8,137.5Z" fill="url(#g21)"/><path d="M415.1,116.5 L417.3,109.6 L419.6,116.5 L419.6,137.5 L415.1,137.5Z" fill="url(#g21)"/><path d="M167.9,124.1 L169.3,119.7 L170.8,124.1 L170.8,137.5 L167.9,137.5Z" fill="url(#g22)"/><path d="M419.6,121.6 L421.1,117.2 L422.5,121.6 L422.5,137.5 L419.6,137.5Z" fill="url(#g22)"/><path d="M163.5,123.4 L165.7,117.0 L167.9,123.4 L167.9,137.5 L163.5,137.5Z" fill="url(#g23)"/><path d="M422.5,121.3 L424.7,114.8 L426.9,121.3 L426.9,137.5 L422.5,137.5Z" fill="url(#g23)"/><path d="M159.5,127.4 L161.5,121.3 L163.5,127.4 L163.5,137.5 L159.5,137.5Z" fill="url(#g24)"/><path d="M426.9,120.8 L428.9,114.7 L430.9,120.8 L430.9,137.5 L426.9,137.5Z" fill="url(#g24)"/><path d="M156.2,125.4 L157.8,120.5 L159.5,125.4 L159.5,137.5 L156.2,137.5Z" fill="url(#g25)"/><path d="M430.9,118.0 L432.6,113.0 L434.2,118.0 L434.2,137.5 L430.9,137.5Z" fill="url(#g25)"/><path d="M153.0,126.5 L154.6,121.8 L156.2,126.5 L156.2,137.5 L153.0,137.5Z" fill="url(#g26)"/><path d="M434.2,130.5 L435.8,125.7 L437.4,130.5 L437.4,137.5 L434.2,137.5Z" fill="url(#g26)"/><path d="M148.4,130.8 L150.7,123.9 L153.0,130.8 L153.0,137.5 L148.4,137.5Z" fill="url(#g27)"/><path d="M437.4,123.3 L439.7,116.4 L442.0,123.3 L442.0,137.5 L437.4,137.5Z" fill="url(#g27)"/><path d="M144.8,130.1 L146.6,124.7 L148.4,130.1 L148.4,137.5 L144.8,137.5Z" fill="url(#g28)"/><path d="M442.0,126.8 L443.8,121.4 L445.6,126.8 L445.6,137.5 L442.0,137.5Z" fill="url(#g28)"/><path d="M141.6,135.6 L143.2,130.8 L144.8,135.6 L144.8,137.5 L141.6,137.5Z" fill="url(#g29)"/><path d="M445.6,124.8 L447.2,120.0 L448.8,124.8 L448.8,137.5 L445.6,137.5Z" fill="url(#g29)"/><path d="M137.1,129.1 L139.4,122.3 L141.6,129.1 L141.6,137.5 L137.1,137.5Z" fill="url(#g30)"/><path d="M448.8,130.1 L451.0,123.3 L453.3,130.1 L453.3,137.5 L448.8,137.5Z" fill="url(#g30)"/><path d="M134.5,132.3 L135.8,128.4 L137.1,132.3 L137.1,137.5 L134.5,137.5Z" fill="url(#g31)"/><path d="M131.2,137.8 L132.9,132.8 L134.5,137.8 L134.5,137.5 L131.2,137.5Z" fill="url(#g32)"/><path d="M455.9,139.0 L457.5,133.9 L459.2,139.0 L459.2,137.5 L455.9,137.5Z" fill="url(#g32)"/><path d="M295.2,51.8 L290.3,51.8 L289.6,132.5 L295.2,132.5Z" fill="url(#g33)" stroke="url(#g33)" stroke-width="0.4"/><path d="M295.2,51.8 L300.1,51.8 L300.8,132.5 L295.2,132.5Z" fill="url(#g33)" stroke="url(#g33)" stroke-width="0.4"/><path d="M290.3,51.8 L286.4,51.8 L285.2,132.5 L289.6,132.5Z" fill="url(#g34)" stroke="url(#g34)" stroke-width="0.4"/><path d="M300.1,51.8 L304.0,51.8 L305.2,132.5 L300.8,132.5Z" fill="url(#g34)" stroke="url(#g34)" stroke-width="0.4"/><path d="M286.4,51.8 L282.7,51.8 L281.0,132.5 L285.2,132.5Z" fill="url(#g35)" stroke="url(#g35)" stroke-width="0.4"/><path d="M304.0,51.8 L307.7,51.8 L309.4,132.5 L305.2,132.5Z" fill="url(#g35)" stroke="url(#g35)" stroke-width="0.4"/><path d="M282.7,51.8 L278.3,51.8 L276.0,132.5 L281.0,132.5Z" fill="url(#g36)" stroke="url(#g36)" stroke-width="0.4"/><path d="M307.7,51.8 L312.1,51.8 L314.4,132.5 L309.4,132.5Z" fill="url(#g36)" stroke="url(#g36)" stroke-width="0.4"/><path d="M278.3,51.8 L274.2,51.8 L271.3,132.5 L276.0,132.5Z" fill="url(#g37)" stroke="url(#g37)" stroke-width="0.4"/><path d="M312.1,51.8 L316.2,51.8 L319.1,132.5 L314.4,132.5Z" fill="url(#g37)" stroke="url(#g37)" stroke-width="0.4"/><path d="M274.2,51.8 L269.0,51.8 L265.5,132.5 L271.3,132.5Z" fill="url(#g38)" stroke="url(#g38)" stroke-width="0.4"/><path d="M316.2,51.8 L321.4,51.8 L324.9,132.5 L319.1,132.5Z" fill="url(#g38)" stroke="url(#g38)" stroke-width="0.4"/><path d="M269.0,51.8 L264.3,51.8 L260.1,132.5 L265.5,132.5Z" fill="url(#g39)" stroke="url(#g39)" stroke-width="0.4"/><path d="M321.4,51.8 L326.1,51.8 L330.3,132.5 L324.9,132.5Z" fill="url(#g39)" stroke="url(#g39)" stroke-width="0.4"/><path d="M264.3,51.8 L259.6,51.8 L254.7,132.5 L260.1,132.5Z" fill="url(#g40)" stroke="url(#g40)" stroke-width="0.4"/><path d="M326.1,51.8 L330.8,51.8 L335.7,132.5 L330.3,132.5Z" fill="url(#g40)" stroke="url(#g40)" stroke-width="0.4"/><path d="M259.6,51.8 L254.8,51.8 L249.3,132.5 L254.7,132.5Z" fill="url(#g41)" stroke="url(#g41)" stroke-width="0.4"/><path d="M330.8,51.8 L335.6,51.8 L341.1,132.5 L335.7,132.5Z" fill="url(#g41)" stroke="url(#g41)" stroke-width="0.4"/><path d="M254.8,51.8 L250.8,51.8 L244.7,132.5 L249.3,132.5Z" fill="url(#g42)" stroke="url(#g42)" stroke-width="0.4"/><path d="M335.6,51.8 L339.6,51.8 L345.7,132.5 L341.1,132.5Z" fill="url(#g42)" stroke="url(#g42)" stroke-width="0.4"/><path d="M294.6,51.8 L295.8,51.8 L295.9,156 L294.5,156Z" fill="#b2ff4c"/><g clip-path="url(#domeclip)" fill="none" stroke-width="1.35"><ellipse cx="221.0" cy="132.5" rx="44.0" ry="80.0" stroke="#ff2000" opacity="0.20"/><ellipse cx="221.0" cy="132.5" rx="43.3" ry="78.8" stroke="#ffd000" opacity="0.20"/><ellipse cx="221.0" cy="132.5" rx="42.6" ry="77.5" stroke="#c00000" opacity="0.20"/><ellipse cx="221.0" cy="132.5" rx="41.9" ry="76.2" stroke="#ff9000" opacity="0.20"/><ellipse cx="221.0" cy="132.5" rx="41.2" ry="75.0" stroke="#30a0ff" opacity="0.20"/><ellipse cx="221.0" cy="132.5" rx="40.6" ry="73.8" stroke="#ff4000" opacity="0.20"/><ellipse cx="221.0" cy="132.5" rx="39.9" ry="72.5" stroke="#ffe040" opacity="0.20"/><ellipse cx="221.0" cy="132.5" rx="39.2" ry="71.2" stroke="#a00000" opacity="0.20"/><ellipse cx="221.0" cy="132.5" rx="38.5" ry="70.0" stroke="#ff2000" opacity="0.21"/><ellipse cx="221.0" cy="132.5" rx="37.8" ry="68.8" stroke="#ffd000" opacity="0.25"/><ellipse cx="221.0" cy="132.5" rx="37.1" ry="67.5" stroke="#c00000" opacity="0.29"/><ellipse cx="221.0" cy="132.5" rx="36.4" ry="66.2" stroke="#ff9000" opacity="0.32"/><ellipse cx="221.0" cy="132.5" rx="35.8" ry="65.0" stroke="#30a0ff" opacity="0.36"/><ellipse cx="221.0" cy="132.5" rx="35.1" ry="63.8" stroke="#ff4000" opacity="0.40"/><ellipse cx="221.0" cy="132.5" rx="34.4" ry="62.5" stroke="#ffe040" opacity="0.43"/><ellipse cx="221.0" cy="132.5" rx="33.7" ry="61.2" stroke="#a00000" opacity="0.47"/><ellipse cx="221.0" cy="132.5" rx="33.0" ry="60.0" stroke="#ff2000" opacity="0.51"/><ellipse cx="221.0" cy="132.5" rx="32.3" ry="58.8" stroke="#ffd000" opacity="0.54"/><ellipse cx="221.0" cy="132.5" rx="31.6" ry="57.5" stroke="#c00000" opacity="0.58"/><ellipse cx="221.0" cy="132.5" rx="30.9" ry="56.2" stroke="#ff9000" opacity="0.62"/><ellipse cx="221.0" cy="132.5" rx="30.3" ry="55.0" stroke="#30a0ff" opacity="0.65"/><ellipse cx="221.0" cy="132.5" rx="29.6" ry="53.8" stroke="#ff4000" opacity="0.69"/><ellipse cx="221.0" cy="132.5" rx="28.9" ry="52.5" stroke="#ffe040" opacity="0.73"/><ellipse cx="221.0" cy="132.5" rx="28.2" ry="51.2" stroke="#a00000" opacity="0.76"/><ellipse cx="221.0" cy="132.5" rx="27.5" ry="50.0" stroke="#ff2000" opacity="0.80"/><ellipse cx="221.0" cy="132.5" rx="26.8" ry="48.8" stroke="#ffd000" opacity="0.80"/><ellipse cx="221.0" cy="132.5" rx="26.1" ry="47.5" stroke="#c00000" opacity="0.80"/><ellipse cx="221.0" cy="132.5" rx="25.4" ry="46.2" stroke="#ff9000" opacity="0.80"/><ellipse cx="221.0" cy="132.5" rx="24.8" ry="45.0" stroke="#30a0ff" opacity="0.80"/><ellipse cx="221.0" cy="132.5" rx="24.1" ry="43.8" stroke="#ff4000" opacity="0.80"/><ellipse cx="221.0" cy="132.5" rx="23.4" ry="42.5" stroke="#ffe040" opacity="0.80"/><ellipse cx="221.0" cy="132.5" rx="22.7" ry="41.2" stroke="#a00000" opacity="0.80"/><ellipse cx="221.0" cy="132.5" rx="22.0" ry="40.0" stroke="#ff2000" opacity="0.80"/><ellipse cx="221.0" cy="132.5" rx="21.3" ry="38.8" stroke="#ffd000" opacity="0.80"/><ellipse cx="221.0" cy="132.5" rx="20.6" ry="37.5" stroke="#c00000" opacity="0.80"/><ellipse cx="221.0" cy="132.5" rx="19.9" ry="36.2" stroke="#ff9000" opacity="0.80"/><ellipse cx="221.0" cy="132.5" rx="19.2" ry="35.0" stroke="#30a0ff" opacity="0.80"/><ellipse cx="221.0" cy="132.5" rx="18.6" ry="33.8" stroke="#ff4000" opacity="0.80"/><ellipse cx="221.0" cy="132.5" rx="17.9" ry="32.5" stroke="#ffe040" opacity="0.80"/><ellipse cx="221.0" cy="132.5" rx="17.2" ry="31.2" stroke="#a00000" opacity="0.80"/><ellipse cx="221.0" cy="132.5" rx="16.5" ry="30.0" stroke="#ff2000" opacity="0.80"/><ellipse cx="221.0" cy="132.5" rx="15.8" ry="28.8" stroke="#ffd000" opacity="0.80"/><ellipse cx="221.0" cy="132.5" rx="15.1" ry="27.5" stroke="#c00000" opacity="0.80"/><ellipse cx="221.0" cy="132.5" rx="14.4" ry="26.2" stroke="#ff9000" opacity="0.80"/><ellipse cx="221.0" cy="132.5" rx="13.8" ry="25.0" stroke="#30a0ff" opacity="0.80"/><ellipse cx="221.0" cy="132.5" rx="13.1" ry="23.8" stroke="#ff4000" opacity="0.80"/><ellipse cx="221.0" cy="132.5" rx="12.4" ry="22.5" stroke="#ffe040" opacity="0.80"/><ellipse cx="221.0" cy="132.5" rx="11.7" ry="21.2" stroke="#a00000" opacity="0.80"/><ellipse cx="221.0" cy="132.5" rx="11.0" ry="20.0" stroke="#ff2000" opacity="0.80"/><ellipse cx="221.0" cy="132.5" rx="10.3" ry="18.8" stroke="#ffd000" opacity="0.80"/><ellipse cx="221.0" cy="132.5" rx="9.6" ry="17.5" stroke="#c00000" opacity="0.80"/><ellipse cx="221.0" cy="132.5" rx="8.9" ry="16.2" stroke="#ff9000" opacity="0.80"/><ellipse cx="221.0" cy="132.5" rx="8.2" ry="15.0" stroke="#30a0ff" opacity="0.80"/><ellipse cx="221.0" cy="132.5" rx="7.6" ry="13.8" stroke="#ff4000" opacity="0.80"/><ellipse cx="221.0" cy="132.5" rx="6.9" ry="12.5" stroke="#ffe040" opacity="0.80"/><ellipse cx="221.0" cy="132.5" rx="6.2" ry="11.2" stroke="#a00000" opacity="0.80"/><ellipse cx="221.0" cy="132.5" rx="5.5" ry="10.0" stroke="#ff2000" opacity="0.80"/><ellipse cx="221.0" cy="132.5" rx="4.8" ry="8.8" stroke="#ffd000" opacity="0.80"/><ellipse cx="221.0" cy="132.5" rx="4.1" ry="7.5" stroke="#c00000" opacity="0.80"/><ellipse cx="221.0" cy="132.5" rx="3.4" ry="6.2" stroke="#ff9000" opacity="0.80"/><ellipse cx="221.0" cy="132.5" rx="2.8" ry="5.0" stroke="#30a0ff" opacity="0.80"/><ellipse cx="221.0" cy="132.5" rx="2.1" ry="3.8" stroke="#ff4000" opacity="0.80"/><ellipse cx="221.0" cy="132.5" rx="1.4" ry="2.5" stroke="#ffe040" opacity="0.80"/><ellipse cx="369.4" cy="132.5" rx="44.0" ry="80.0" stroke="#ff2000" opacity="0.20"/><ellipse cx="369.4" cy="132.5" rx="43.3" ry="78.8" stroke="#ffd000" opacity="0.20"/><ellipse cx="369.4" cy="132.5" rx="42.6" ry="77.5" stroke="#c00000" opacity="0.20"/><ellipse cx="369.4" cy="132.5" rx="41.9" ry="76.2" stroke="#ff9000" opacity="0.20"/><ellipse cx="369.4" cy="132.5" rx="41.2" ry="75.0" stroke="#30a0ff" opacity="0.20"/><ellipse cx="369.4" cy="132.5" rx="40.6" ry="73.8" stroke="#ff4000" opacity="0.20"/><ellipse cx="369.4" cy="132.5" rx="39.9" ry="72.5" stroke="#ffe040" opacity="0.20"/><ellipse cx="369.4" cy="132.5" rx="39.2" ry="71.2" stroke="#a00000" opacity="0.20"/><ellipse cx="369.4" cy="132.5" rx="38.5" ry="70.0" stroke="#ff2000" opacity="0.21"/><ellipse cx="369.4" cy="132.5" rx="37.8" ry="68.8" stroke="#ffd000" opacity="0.25"/><ellipse cx="369.4" cy="132.5" rx="37.1" ry="67.5" stroke="#c00000" opacity="0.29"/><ellipse cx="369.4" cy="132.5" rx="36.4" ry="66.2" stroke="#ff9000" opacity="0.32"/><ellipse cx="369.4" cy="132.5" rx="35.8" ry="65.0" stroke="#30a0ff" opacity="0.36"/><ellipse cx="369.4" cy="132.5" rx="35.1" ry="63.8" stroke="#ff4000" opacity="0.40"/><ellipse cx="369.4" cy="132.5" rx="34.4" ry="62.5" stroke="#ffe040" opacity="0.43"/><ellipse cx="369.4" cy="132.5" rx="33.7" ry="61.2" stroke="#a00000" opacity="0.47"/><ellipse cx="369.4" cy="132.5" rx="33.0" ry="60.0" stroke="#ff2000" opacity="0.51"/><ellipse cx="369.4" cy="132.5" rx="32.3" ry="58.8" stroke="#ffd000" opacity="0.54"/><ellipse cx="369.4" cy="132.5" rx="31.6" ry="57.5" stroke="#c00000" opacity="0.58"/><ellipse cx="369.4" cy="132.5" rx="30.9" ry="56.2" stroke="#ff9000" opacity="0.62"/><ellipse cx="369.4" cy="132.5" rx="30.3" ry="55.0" stroke="#30a0ff" opacity="0.65"/><ellipse cx="369.4" cy="132.5" rx="29.6" ry="53.8" stroke="#ff4000" opacity="0.69"/><ellipse cx="369.4" cy="132.5" rx="28.9" ry="52.5" stroke="#ffe040" opacity="0.73"/><ellipse cx="369.4" cy="132.5" rx="28.2" ry="51.2" stroke="#a00000" opacity="0.76"/><ellipse cx="369.4" cy="132.5" rx="27.5" ry="50.0" stroke="#ff2000" opacity="0.80"/><ellipse cx="369.4" cy="132.5" rx="26.8" ry="48.8" stroke="#ffd000" opacity="0.80"/><ellipse cx="369.4" cy="132.5" rx="26.1" ry="47.5" stroke="#c00000" opacity="0.80"/><ellipse cx="369.4" cy="132.5" rx="25.4" ry="46.2" stroke="#ff9000" opacity="0.80"/><ellipse cx="369.4" cy="132.5" rx="24.8" ry="45.0" stroke="#30a0ff" opacity="0.80"/><ellipse cx="369.4" cy="132.5" rx="24.1" ry="43.8" stroke="#ff4000" opacity="0.80"/><ellipse cx="369.4" cy="132.5" rx="23.4" ry="42.5" stroke="#ffe040" opacity="0.80"/><ellipse cx="369.4" cy="132.5" rx="22.7" ry="41.2" stroke="#a00000" opacity="0.80"/><ellipse cx="369.4" cy="132.5" rx="22.0" ry="40.0" stroke="#ff2000" opacity="0.80"/><ellipse cx="369.4" cy="132.5" rx="21.3" ry="38.8" stroke="#ffd000" opacity="0.80"/><ellipse cx="369.4" cy="132.5" rx="20.6" ry="37.5" stroke="#c00000" opacity="0.80"/><ellipse cx="369.4" cy="132.5" rx="19.9" ry="36.2" stroke="#ff9000" opacity="0.80"/><ellipse cx="369.4" cy="132.5" rx="19.2" ry="35.0" stroke="#30a0ff" opacity="0.80"/><ellipse cx="369.4" cy="132.5" rx="18.6" ry="33.8" stroke="#ff4000" opacity="0.80"/><ellipse cx="369.4" cy="132.5" rx="17.9" ry="32.5" stroke="#ffe040" opacity="0.80"/><ellipse cx="369.4" cy="132.5" rx="17.2" ry="31.2" stroke="#a00000" opacity="0.80"/><ellipse cx="369.4" cy="132.5" rx="16.5" ry="30.0" stroke="#ff2000" opacity="0.80"/><ellipse cx="369.4" cy="132.5" rx="15.8" ry="28.8" stroke="#ffd000" opacity="0.80"/><ellipse cx="369.4" cy="132.5" rx="15.1" ry="27.5" stroke="#c00000" opacity="0.80"/><ellipse cx="369.4" cy="132.5" rx="14.4" ry="26.2" stroke="#ff9000" opacity="0.80"/><ellipse cx="369.4" cy="132.5" rx="13.8" ry="25.0" stroke="#30a0ff" opacity="0.80"/><ellipse cx="369.4" cy="132.5" rx="13.1" ry="23.8" stroke="#ff4000" opacity="0.80"/><ellipse cx="369.4" cy="132.5" rx="12.4" ry="22.5" stroke="#ffe040" opacity="0.80"/><ellipse cx="369.4" cy="132.5" rx="11.7" ry="21.2" stroke="#a00000" opacity="0.80"/><ellipse cx="369.4" cy="132.5" rx="11.0" ry="20.0" stroke="#ff2000" opacity="0.80"/><ellipse cx="369.4" cy="132.5" rx="10.3" ry="18.8" stroke="#ffd000" opacity="0.80"/><ellipse cx="369.4" cy="132.5" rx="9.6" ry="17.5" stroke="#c00000" opacity="0.80"/><ellipse cx="369.4" cy="132.5" rx="8.9" ry="16.2" stroke="#ff9000" opacity="0.80"/><ellipse cx="369.4" cy="132.5" rx="8.2" ry="15.0" stroke="#30a0ff" opacity="0.80"/><ellipse cx="369.4" cy="132.5" rx="7.6" ry="13.8" stroke="#ff4000" opacity="0.80"/><ellipse cx="369.4" cy="132.5" rx="6.9" ry="12.5" stroke="#ffe040" opacity="0.80"/><ellipse cx="369.4" cy="132.5" rx="6.2" ry="11.2" stroke="#a00000" opacity="0.80"/><ellipse cx="369.4" cy="132.5" rx="5.5" ry="10.0" stroke="#ff2000" opacity="0.80"/><ellipse cx="369.4" cy="132.5" rx="4.8" ry="8.8" stroke="#ffd000" opacity="0.80"/><ellipse cx="369.4" cy="132.5" rx="4.1" ry="7.5" stroke="#c00000" opacity="0.80"/><ellipse cx="369.4" cy="132.5" rx="3.4" ry="6.2" stroke="#ff9000" opacity="0.80"/><ellipse cx="369.4" cy="132.5" rx="2.8" ry="5.0" stroke="#30a0ff" opacity="0.80"/><ellipse cx="369.4" cy="132.5" rx="2.1" ry="3.8" stroke="#ff4000" opacity="0.80"/><ellipse cx="369.4" cy="132.5" rx="1.4" ry="2.5" stroke="#ffe040" opacity="0.80"/></g><path d="M295.2,132.0 L290.1,132.0 L291.1,232.0 L295.2,232.0Z" fill="url(#g43)" stroke="url(#g43)" stroke-width="0.4"/><path d="M295.2,132.0 L300.3,132.0 L299.3,232.0 L295.2,232.0Z" fill="url(#g43)" stroke="url(#g43)" stroke-width="0.4"/><path d="M290.1,132.0 L284.1,132.0 L286.3,232.0 L291.1,232.0Z" fill="url(#g44)" stroke="url(#g44)" stroke-width="0.4"/><path d="M300.3,132.0 L306.3,132.0 L304.1,232.0 L299.3,232.0Z" fill="url(#g44)" stroke="url(#g44)" stroke-width="0.4"/><path d="M284.1,132.0 L276.6,132.0 L280.3,232.0 L286.3,232.0Z" fill="url(#g45)" stroke="url(#g45)" stroke-width="0.4"/><path d="M306.3,132.0 L313.8,132.0 L310.1,232.0 L304.1,232.0Z" fill="url(#g45)" stroke="url(#g45)" stroke-width="0.4"/><path d="M276.6,132.0 L270.0,132.0 L275.1,232.0 L280.3,232.0Z" fill="url(#g46)" stroke="url(#g46)" stroke-width="0.4"/><path d="M313.8,132.0 L320.4,132.0 L315.3,232.0 L310.1,232.0Z" fill="url(#g46)" stroke="url(#g46)" stroke-width="0.4"/><path d="M270.0,132.0 L264.5,132.0 L270.6,232.0 L275.1,232.0Z" fill="url(#g47)" stroke="url(#g47)" stroke-width="0.4"/><path d="M320.4,132.0 L325.9,132.0 L319.8,232.0 L315.3,232.0Z" fill="url(#g47)" stroke="url(#g47)" stroke-width="0.4"/><path d="M264.5,132.0 L258.5,132.0 L265.9,232.0 L270.6,232.0Z" fill="url(#g48)" stroke="url(#g48)" stroke-width="0.4"/><path d="M325.9,132.0 L331.9,132.0 L324.5,232.0 L319.8,232.0Z" fill="url(#g48)" stroke="url(#g48)" stroke-width="0.4"/><path d="M258.5,132.0 L250.8,132.0 L259.7,232.0 L265.9,232.0Z" fill="url(#g49)" stroke="url(#g49)" stroke-width="0.4"/><path d="M331.9,132.0 L339.6,132.0 L330.7,232.0 L324.5,232.0Z" fill="url(#g49)" stroke="url(#g49)" stroke-width="0.4"/><path d="M250.8,132.0 L246.2,132.0 L256.0,232.0 L259.7,232.0Z" fill="url(#g50)" stroke="url(#g50)" stroke-width="0.4"/><path d="M339.6,132.0 L344.2,132.0 L334.4,232.0 L330.7,232.0Z" fill="url(#g50)" stroke="url(#g50)" stroke-width="0.4"/><path d="M246.2,132.0 L244.7,132.0 L254.8,232.0 L256.0,232.0Z" fill="url(#g51)" stroke="url(#g51)" stroke-width="0.4"/><path d="M344.2,132.0 L345.7,132.0 L335.6,232.0 L334.4,232.0Z" fill="url(#g51)" stroke="url(#g51)" stroke-width="0.4"/><path d="M241.7,132.0 L251.2,132.0 L251.2,193.8 L249.8,199.0 L246.5,201.4 L243.2,199.0 L241.7,193.8Z" fill="url(#g52)"/><path d="M339.2,132.0 L348.1,132.0 L348.1,199.6 L346.8,204.6 L343.7,206.8 L340.5,204.6 L339.2,199.6Z" fill="url(#g52)"/><path d="M236.3,132.0 L241.7,132.0 L241.7,193.2 L240.9,196.1 L239.0,197.5 L237.1,196.1 L236.3,193.2Z" fill="url(#g53)"/><path d="M348.7,132.0 L354.8,132.0 L354.8,187.9 L353.9,191.2 L351.8,192.7 L349.6,191.2 L348.7,187.9Z" fill="url(#g53)"/><path d="M230.0,132.3 L235.2,132.3 L235.2,184.5 L234.4,187.4 L232.6,188.7 L230.7,187.4 L230.0,184.5Z" fill="url(#g54)"/><path d="M355.2,132.3 L359.9,132.3 L359.9,192.6 L359.2,195.2 L357.6,196.4 L355.9,195.2 L355.2,192.6Z" fill="url(#g54)"/><path d="M223.8,132.9 L229.3,132.9 L229.3,178.7 L228.5,181.7 L226.5,183.1 L224.6,181.7 L223.8,178.7Z" fill="url(#g55)"/><path d="M361.1,132.9 L366.7,132.9 L366.7,177.4 L365.8,180.4 L363.9,181.8 L361.9,180.4 L361.1,177.4Z" fill="url(#g55)"/><path d="M214.4,133.7 L222.6,133.7 L222.6,179.4 L221.3,183.9 L218.5,185.9 L215.6,183.9 L214.4,179.4Z" fill="url(#g56)"/><path d="M367.8,133.7 L375.7,133.7 L375.7,181.1 L374.6,185.4 L371.8,187.4 L369.0,185.4 L367.8,181.1Z" fill="url(#g56)"/><path d="M209.4,134.4 L214.2,134.4 L214.2,177.4 L213.5,180.1 L211.8,181.3 L210.1,180.1 L209.4,177.4Z" fill="url(#g57)"/><path d="M376.2,134.4 L381.1,134.4 L381.1,180.6 L380.4,183.3 L378.7,184.5 L377.0,183.3 L376.2,180.6Z" fill="url(#g57)"/><path d="M203.3,135.0 L208.4,135.0 L208.4,165.0 L207.6,167.8 L205.8,169.1 L204.0,167.8 L203.3,165.0Z" fill="url(#g58)"/><path d="M382.0,135.0 L386.9,135.0 L386.9,170.0 L386.2,172.7 L384.5,173.9 L382.8,172.7 L382.0,170.0Z" fill="url(#g58)"/><path d="M194.7,135.7 L202.0,135.7 L202.0,167.3 L200.9,171.4 L198.4,173.2 L195.8,171.4 L194.7,167.3Z" fill="url(#g59)"/><path d="M388.4,135.7 L394.8,135.7 L394.8,166.9 L393.8,170.4 L391.6,172.0 L389.3,170.4 L388.4,166.9Z" fill="url(#g59)"/><path d="M186.6,136.5 L194.3,136.5 L194.3,149.9 L193.1,154.1 L190.4,156.0 L187.8,154.1 L186.6,149.9Z" fill="url(#g60)"/><path d="M396.1,136.5 L404.4,136.5 L404.4,158.9 L403.2,163.5 L400.3,165.6 L397.4,163.5 L396.1,158.9Z" fill="url(#g60)"/><path d="M178.6,137.0 L185.6,137.0 L185.6,148.9 L184.5,152.7 L182.1,154.5 L179.6,152.7 L178.6,148.9Z" fill="url(#g61)"/><path d="M404.8,137.0 L412.2,137.0 L412.2,146.6 L411.1,150.6 L408.5,152.5 L405.9,150.6 L404.8,146.6Z" fill="url(#g61)"/><path d="M170.0,137.0 L177.1,137.0 L177.1,145.1 L176.0,149.0 L173.5,150.8 L171.1,149.0 L170.0,145.1Z" fill="url(#g62)"/><path d="M413.3,137.0 L421.4,137.0 L421.4,142.2 L420.2,146.6 L417.4,148.6 L414.5,146.6 L413.3,142.2Z" fill="url(#g62)"/><path d="M164.1,137.0 L168.9,137.0 L168.9,145.0 L168.2,147.6 L166.5,148.8 L164.8,147.6 L164.1,145.0Z" fill="url(#g63)"/><path d="M421.5,137.0 L426.1,137.0 L426.1,143.7 L425.4,146.2 L423.8,147.3 L422.2,146.2 L421.5,143.7Z" fill="url(#g63)"/><path d="M158.5,137.0 L163.3,137.0 L163.3,141.3 L162.6,143.9 L160.9,145.1 L159.2,143.9 L158.5,141.3Z" fill="url(#g64)"/><path d="M151.4,137.0 L157.6,137.0 L157.6,139.9 L156.7,143.3 L154.5,144.8 L152.4,143.3 L151.4,139.9Z" fill="url(#g65)"/><path d="M432.8,137.0 L439.7,137.0 L439.7,141.4 L438.7,145.2 L436.3,146.9 L433.9,145.2 L432.8,141.4Z" fill="url(#g65)"/><path d="M146.5,137.0 L150.6,137.0 L150.6,143.6 L150.0,145.9 L148.5,146.9 L147.1,145.9 L146.5,143.6Z" fill="url(#g66)"/><path d="M140.0,137.0 L145.5,137.0 L145.5,141.0 L144.7,144.0 L142.8,145.4 L140.8,144.0 L140.0,141.0Z" fill="url(#g67)"/><path d="M459.3,137.0 L463.9,137.0 L463.9,139.3 L463.2,141.8 L461.6,143.0 L460.0,141.8 L459.3,139.3Z" fill="url(#g69)"/><path d="M290.2,132 L300.2,132 L295.2,156Z" fill="#002dff"/></g><g clip-path="url(#clipC)"><rect x="82.7" y="272.5" width="394.40000000000003" height="185.10000000000002" filter="url(#nR)"/><g mask="url(#mPc)"><rect x="82.7" y="272.5" width="394.40000000000003" height="185.10000000000002" filter="url(#nP)"/></g><g mask="url(#mYc)"><rect x="82.7" y="272.5" width="394.40000000000003" height="185.10000000000002" filter="url(#nO)"/></g><g mask="url(#mOc)"><rect x="82.7" y="272.5" width="394.40000000000003" height="185.10000000000002" filter="url(#nO)"/></g><rect x="118.3" y="272.5" width="2.4" height="185.10000000000002" fill="#e02000" opacity="0.9"/><rect x="120.7" y="325" width="2.2" height="50" fill="#40c0ff" opacity="0.55"/><rect x="116.1" y="415" width="2.2" height="43" fill="#40c0ff" opacity="0.5"/><rect x="427.8" y="272.5" width="2.4" height="185.10000000000002" fill="#e02000" opacity="0.9"/><rect x="430.2" y="325" width="2.2" height="50" fill="#40c0ff" opacity="0.55"/><rect x="425.6" y="415" width="2.2" height="43" fill="#40c0ff" opacity="0.5"/><rect x="244" y="272.5" width="59" height="32" fill="url(#g70)"/><rect x="272.8" y="272.5" width="1.5" height="26" fill="#ff3000"/><g fill="none" stroke-width="1.3" opacity="0.8"><path d="M242.5,272.5 L241.6,276.7 L240.6,280.9 L239.6,285.1 L238.6,289.3 L237.5,293.5 L236.4,297.7 L235.2,301.9 L234.0,306.1" stroke="#ff2000"/><path d="M304.5,272.5 L305.4,276.7 L306.4,280.9 L307.4,285.1 L308.4,289.3 L309.5,293.5 L310.6,297.7 L311.8,301.9 L313.0,306.1" stroke="#ff2000"/><path d="M240.3,272.5 L239.4,276.7 L238.4,280.9 L237.4,285.1 L236.4,289.3 L235.3,293.5 L234.2,297.7 L233.0,301.9 L231.8,306.1" stroke="#ffe000"/><path d="M306.7,272.5 L307.6,276.7 L308.6,280.9 L309.6,285.1 L310.6,289.3 L311.7,293.5 L312.8,297.7 L314.0,301.9 L315.2,306.1" stroke="#ffe000"/><path d="M238.1,272.5 L237.2,276.7 L236.2,280.9 L235.2,285.1 L234.2,289.3 L233.1,293.5 L232.0,297.7 L230.8,301.9 L229.6,306.1" stroke="#ff8000"/><path d="M308.9,272.5 L309.8,276.7 L310.8,280.9 L311.8,285.1 L312.8,289.3 L313.9,293.5 L315.0,297.7 L316.2,301.9 L317.4,306.1" stroke="#ff8000"/><path d="M235.9,272.5 L235.0,276.7 L234.0,280.9 L233.0,285.1 L232.0,289.3 L230.9,293.5 L229.8,297.7 L228.6,301.9 L227.4,306.1" stroke="#c00000"/><path d="M311.1,272.5 L312.0,276.7 L313.0,280.9 L314.0,285.1 L315.0,289.3 L316.1,293.5 L317.2,297.7 L318.4,301.9 L319.6,306.1" stroke="#c00000"/><path d="M233.7,272.5 L232.8,276.7 L231.8,280.9 L230.8,285.1 L229.8,289.3 L228.7,293.5 L227.6,297.7 L226.4,301.9 L225.2,306.1" stroke="#ff2000"/><path d="M313.3,272.5 L314.2,276.7 L315.2,280.9 L316.2,285.1 L317.2,289.3 L318.3,293.5 L319.4,297.7 L320.6,301.9 L321.8,306.1" stroke="#ff2000"/><path d="M231.5,272.5 L230.6,276.7 L229.6,280.9 L228.6,285.1 L227.6,289.3 L226.5,293.5 L225.4,297.7 L224.2,301.9 L223.0,306.1" stroke="#ffe000"/><path d="M315.5,272.5 L316.4,276.7 L317.4,280.9 L318.4,285.1 L319.4,289.3 L320.5,293.5 L321.6,297.7 L322.8,301.9 L324.0,306.1" stroke="#ffe000"/><path d="M229.3,272.5 L228.4,276.7 L227.4,280.9 L226.4,285.1 L225.4,289.3 L224.3,293.5 L223.2,297.7 L222.0,301.9 L220.8,306.1" stroke="#ff8000"/><path d="M317.7,272.5 L318.6,276.7 L319.6,280.9 L320.6,285.1 L321.6,289.3 L322.7,293.5 L323.8,297.7 L325.0,301.9 L326.2,306.1" stroke="#ff8000"/></g><rect x="121.5" y="367.2" width="2.3" height="1.6" fill="url(#g71)"/><rect x="123.5" y="366.4" width="2.3" height="3.0" fill="url(#g71)"/><rect x="125.5" y="365.5" width="2.3" height="4.4" fill="url(#g71)"/><rect x="127.5" y="364.6" width="2.3" height="5.8" fill="url(#g71)"/><rect x="129.5" y="363.7" width="2.3" height="7.1" fill="url(#g71)"/><rect x="131.5" y="362.8" width="2.3" height="8.5" fill="url(#g71)"/><rect x="133.5" y="361.9" width="2.3" height="9.9" fill="url(#g71)"/><rect x="135.5" y="361.0" width="2.3" height="11.2" fill="url(#g71)"/><rect x="137.5" y="360.2" width="2.3" height="12.6" fill="url(#g71)"/><rect x="139.5" y="359.3" width="2.3" height="14.0" fill="url(#g71)"/><rect x="141.5" y="358.4" width="2.3" height="15.4" fill="url(#g72)"/><rect x="143.5" y="357.5" width="2.3" height="16.8" fill="url(#g72)"/><rect x="145.5" y="356.6" width="2.3" height="18.3" fill="url(#g73)"/><rect x="147.5" y="355.7" width="2.3" height="19.7" fill="url(#g74)"/><rect x="149.5" y="354.9" width="2.3" height="21.2" fill="url(#g75)"/><rect x="151.5" y="354.0" width="2.3" height="22.7" fill="url(#g76)"/><rect x="153.5" y="353.1" width="2.3" height="24.2" fill="url(#g76)"/><rect x="155.5" y="352.2" width="2.3" height="25.6" fill="url(#g77)"/><rect x="157.5" y="351.3" width="2.3" height="27.1" fill="url(#g78)"/><rect x="159.5" y="350.4" width="2.3" height="28.6" fill="url(#g79)"/><rect x="161.5" y="349.6" width="2.3" height="30.1" fill="url(#g79)"/><rect x="163.5" y="348.7" width="2.3" height="31.3" fill="url(#g80)"/><rect x="165.5" y="347.9" width="2.3" height="32.5" fill="url(#g81)"/><rect x="167.5" y="347.1" width="2.3" height="33.7" fill="url(#g81)"/><rect x="169.5" y="346.3" width="2.3" height="34.9" fill="url(#g82)"/><rect x="171.5" y="345.5" width="2.3" height="36.1" fill="url(#g83)"/><rect x="173.5" y="344.7" width="2.3" height="37.3" fill="url(#g83)"/><rect x="175.5" y="343.9" width="2.3" height="38.5" fill="url(#g84)"/><rect x="177.5" y="343.1" width="2.3" height="39.7" fill="url(#g84)"/><rect x="179.5" y="342.4" width="2.3" height="40.9" fill="url(#g85)"/><rect x="181.5" y="341.6" width="2.3" height="42.1" fill="url(#g86)"/><rect x="183.5" y="340.8" width="2.3" height="42.5" fill="url(#g86)"/><rect x="185.5" y="340.0" width="2.3" height="42.5" fill="url(#g86)"/><rect x="187.5" y="339.2" width="2.3" height="42.5" fill="url(#g86)"/><rect x="189.5" y="338.4" width="2.3" height="42.5" fill="url(#g86)"/><rect x="191.5" y="337.6" width="2.3" height="42.5" fill="url(#g86)"/><rect x="193.5" y="336.8" width="2.3" height="42.5" fill="url(#g86)"/><rect x="195.5" y="336.0" width="2.3" height="42.5" fill="url(#g86)"/><rect x="197.5" y="335.2" width="2.3" height="42.5" fill="url(#g86)"/><rect x="199.5" y="334.4" width="2.3" height="42.5" fill="url(#g86)"/><rect x="201.5" y="333.6" width="2.3" height="42.5" fill="url(#g86)"/><rect x="203.5" y="332.6" width="2.3" height="42.9" fill="url(#g86)"/><rect x="205.5" y="331.2" width="2.3" height="44.0" fill="url(#g87)"/><rect x="207.5" y="329.8" width="2.3" height="45.1" fill="url(#g87)"/><rect x="209.5" y="328.4" width="2.3" height="46.2" fill="url(#g88)"/><rect x="211.5" y="327.0" width="2.3" height="47.3" fill="url(#g88)"/><rect x="213.5" y="325.6" width="2.3" height="48.4" fill="url(#g89)"/><rect x="215.5" y="324.2" width="2.3" height="49.6" fill="url(#g90)"/><rect x="217.5" y="322.8" width="2.3" height="50.7" fill="url(#g90)"/><rect x="219.5" y="321.4" width="2.3" height="51.8" fill="url(#g91)"/><rect x="221.5" y="320.0" width="2.3" height="52.9" fill="url(#g91)"/><rect x="223.5" y="318.5" width="2.3" height="54.0" fill="url(#g92)"/><rect x="225.5" y="316.8" width="2.3" height="55.4" fill="url(#g93)"/><rect x="227.5" y="315.1" width="2.3" height="56.8" fill="url(#g93)"/><rect x="229.5" y="313.4" width="2.3" height="58.2" fill="url(#g94)"/><rect x="231.5" y="311.7" width="2.3" height="59.6" fill="url(#g95)"/><rect x="233.5" y="310.0" width="2.3" height="61.0" fill="url(#g95)"/><rect x="235.5" y="308.3" width="2.3" height="62.4" fill="url(#g96)"/><rect x="237.5" y="306.6" width="2.3" height="63.8" fill="url(#g96)"/><rect x="239.5" y="304.1" width="2.3" height="66.1" fill="url(#g96)"/><rect x="241.5" y="299.5" width="2.3" height="70.3" fill="url(#g96)"/><rect x="243.5" y="298.3" width="2.3" height="71.3" fill="url(#g96)"/><rect x="245.5" y="301.4" width="2.3" height="68.1" fill="url(#g96)"/><rect x="247.5" y="300.2" width="2.3" height="69.2" fill="url(#g96)"/><rect x="249.5" y="297.5" width="2.3" height="71.8" fill="url(#g96)"/><rect x="251.5" y="299.4" width="2.3" height="69.9" fill="url(#g96)"/><rect x="253.5" y="299.6" width="2.3" height="69.6" fill="url(#g96)"/><rect x="255.5" y="297.9" width="2.3" height="71.3" fill="url(#g96)"/><rect x="257.5" y="301.0" width="2.3" height="68.0" fill="url(#g96)"/><rect x="259.5" y="297.6" width="2.3" height="71.4" fill="url(#g96)"/><rect x="261.5" y="299.2" width="2.3" height="69.8" fill="url(#g96)"/><rect x="263.5" y="299.8" width="2.3" height="69.0" fill="url(#g96)"/><rect x="265.5" y="299.4" width="2.3" height="69.4" fill="url(#g96)"/><rect x="267.5" y="300.2" width="2.3" height="68.5" fill="url(#g96)"/><rect x="269.5" y="301.1" width="2.3" height="67.6" fill="url(#g96)"/><rect x="271.5" y="302.3" width="2.3" height="66.3" fill="url(#g96)"/><rect x="273.5" y="298.6" width="2.3" height="70.0" fill="url(#g96)"/><rect x="275.5" y="300.6" width="2.3" height="68.0" fill="url(#g96)"/><rect x="277.5" y="300.8" width="2.3" height="67.9" fill="url(#g96)"/><rect x="279.5" y="298.6" width="2.3" height="70.2" fill="url(#g96)"/><rect x="281.5" y="297.0" width="2.3" height="71.8" fill="url(#g96)"/><rect x="283.5" y="302.4" width="2.3" height="66.6" fill="url(#g96)"/><rect x="285.5" y="298.6" width="2.3" height="70.3" fill="url(#g96)"/><rect x="287.5" y="298.7" width="2.3" height="70.3" fill="url(#g96)"/><rect x="289.5" y="301.9" width="2.3" height="67.2" fill="url(#g96)"/><rect x="291.5" y="300.2" width="2.3" height="69.0" fill="url(#g96)"/><rect x="293.5" y="299.6" width="2.3" height="69.7" fill="url(#g96)"/><rect x="295.5" y="301.3" width="2.3" height="68.1" fill="url(#g96)"/><rect x="297.5" y="297.2" width="2.3" height="72.3" fill="url(#g96)"/><rect x="299.5" y="300.9" width="2.3" height="68.6" fill="url(#g96)"/><rect x="301.5" y="299.1" width="2.3" height="70.5" fill="url(#g96)"/><rect x="303.5" y="299.5" width="2.3" height="70.3" fill="url(#g96)"/><rect x="305.5" y="304.1" width="2.3" height="66.1" fill="url(#g96)"/><rect x="307.5" y="306.6" width="2.3" height="63.8" fill="url(#g96)"/><rect x="309.5" y="308.3" width="2.3" height="62.4" fill="url(#g96)"/><rect x="311.5" y="310.0" width="2.3" height="61.0" fill="url(#g95)"/><rect x="313.5" y="311.7" width="2.3" height="59.6" fill="url(#g95)"/><rect x="315.5" y="313.4" width="2.3" height="58.2" fill="url(#g94)"/><rect x="317.5" y="315.1" width="2.3" height="56.8" fill="url(#g93)"/><rect x="319.5" y="316.8" width="2.3" height="55.4" fill="url(#g93)"/><rect x="321.5" y="318.5" width="2.3" height="54.0" fill="url(#g92)"/><rect x="323.5" y="320.0" width="2.3" height="52.9" fill="url(#g91)"/><rect x="325.5" y="321.4" width="2.3" height="51.8" fill="url(#g91)"/><rect x="327.5" y="322.8" width="2.3" height="50.7" fill="url(#g90)"/><rect x="329.5" y="324.2" width="2.3" height="49.6" fill="url(#g90)"/><rect x="331.5" y="325.6" width="2.3" height="48.4" fill="url(#g89)"/><rect x="333.5" y="327.0" width="2.3" height="47.3" fill="url(#g88)"/><rect x="335.5" y="328.4" width="2.3" height="46.2" fill="url(#g88)"/><rect x="337.5" y="329.8" width="2.3" height="45.1" fill="url(#g87)"/><rect x="339.5" y="331.2" width="2.3" height="44.0" fill="url(#g87)"/><rect x="341.5" y="332.6" width="2.3" height="42.9" fill="url(#g86)"/><rect x="343.5" y="333.6" width="2.3" height="42.5" fill="url(#g86)"/><rect x="345.5" y="334.4" width="2.3" height="42.5" fill="url(#g86)"/><rect x="347.5" y="335.2" width="2.3" height="42.5" fill="url(#g86)"/><rect x="349.5" y="336.0" width="2.3" height="42.5" fill="url(#g86)"/><rect x="351.5" y="336.8" width="2.3" height="42.5" fill="url(#g86)"/><rect x="353.5" y="337.6" width="2.3" height="42.5" fill="url(#g86)"/><rect x="355.5" y="338.4" width="2.3" height="42.5" fill="url(#g86)"/><rect x="357.5" y="339.2" width="2.3" height="42.5" fill="url(#g86)"/><rect x="359.5" y="340.0" width="2.3" height="42.5" fill="url(#g86)"/><rect x="361.5" y="340.8" width="2.3" height="42.5" fill="url(#g86)"/><rect x="363.5" y="341.6" width="2.3" height="42.1" fill="url(#g86)"/><rect x="365.5" y="342.4" width="2.3" height="40.9" fill="url(#g85)"/><rect x="367.5" y="343.1" width="2.3" height="39.7" fill="url(#g84)"/><rect x="369.5" y="343.9" width="2.3" height="38.5" fill="url(#g84)"/><rect x="371.5" y="344.7" width="2.3" height="37.3" fill="url(#g83)"/><rect x="373.5" y="345.5" width="2.3" height="36.1" fill="url(#g83)"/><rect x="375.5" y="346.3" width="2.3" height="34.9" fill="url(#g82)"/><rect x="377.5" y="347.1" width="2.3" height="33.7" fill="url(#g81)"/><rect x="379.5" y="347.9" width="2.3" height="32.5" fill="url(#g81)"/><rect x="381.5" y="348.7" width="2.3" height="31.3" fill="url(#g80)"/><rect x="383.5" y="349.6" width="2.3" height="30.1" fill="url(#g79)"/><rect x="385.5" y="350.4" width="2.3" height="28.6" fill="url(#g79)"/><rect x="387.5" y="351.3" width="2.3" height="27.1" fill="url(#g78)"/><rect x="389.5" y="352.2" width="2.3" height="25.6" fill="url(#g77)"/><rect x="391.5" y="353.1" width="2.3" height="24.2" fill="url(#g76)"/><rect x="393.5" y="354.0" width="2.3" height="22.7" fill="url(#g76)"/><rect x="395.5" y="354.9" width="2.3" height="21.2" fill="url(#g75)"/><rect x="397.5" y="355.7" width="2.3" height="19.7" fill="url(#g74)"/><rect x="399.5" y="356.6" width="2.3" height="18.3" fill="url(#g73)"/><rect x="401.5" y="357.5" width="2.3" height="16.8" fill="url(#g72)"/><rect x="403.5" y="358.4" width="2.3" height="15.4" fill="url(#g72)"/><rect x="405.5" y="359.3" width="2.3" height="14.0" fill="url(#g71)"/><rect x="407.5" y="360.2" width="2.3" height="12.6" fill="url(#g71)"/><rect x="409.5" y="361.0" width="2.3" height="11.2" fill="url(#g71)"/><rect x="411.5" y="361.9" width="2.3" height="9.9" fill="url(#g71)"/><rect x="413.5" y="362.8" width="2.3" height="8.5" fill="url(#g71)"/><rect x="415.5" y="363.7" width="2.3" height="7.1" fill="url(#g71)"/><rect x="417.5" y="364.6" width="2.3" height="5.8" fill="url(#g71)"/><rect x="419.5" y="365.5" width="2.3" height="4.4" fill="url(#g71)"/><rect x="421.5" y="366.4" width="2.3" height="3.0" fill="url(#g71)"/><rect x="423.5" y="367.2" width="2.3" height="1.6" fill="url(#g71)"/><path d="M183.9,383.7 L203.5,375.7 L244.1,369.8 L273.5,369.0 L302.9,369.8 L343.5,375.7 L363.1,383.7 L341.5,397.0 L321.0,411.4 L308.6,425.8 L302.4,436.0 L298.3,440.0 L248.7,440.0 L244.6,436.0 L238.4,425.8 L226.0,411.4 L205.5,397.0Z" fill="url(#g97)"/><rect x="248.0" y="438.8" width="51" height="20" fill="#b80000"/></g><g clip-path="url(#clipB)"><path d="M761.0,115.8 L760.4,117.6 L759.4,120.4 L758.4,123.2 L757.4,126.8 L756.4,130.5 L755.4,134.1 L754.4,137.1 L753.4,138.7 L752.4,140.3 L751.4,141.9 L750.4,143.5 L749.4,145.1 L748.4,146.5 L747.4,147.5 L746.4,148.5 L745.4,149.5 L744.4,150.5 L743.4,151.5 L742.4,152.5 L741.4,153.5 L740.4,154.5 L739.4,155.4 L738.4,156.1 L737.4,156.8 L736.4,157.5 L735.4,158.2 L734.4,158.9 L733.4,159.6 L732.4,160.3 L731.4,161.0 L730.4,161.7 L729.4,162.4 L728.4,162.9 L727.4,163.4 L726.4,163.9 L725.4,164.4 L724.4,164.9 L723.4,165.4 L722.4,165.9 L721.4,166.4 L720.4,166.9 L719.4,167.4 L718.4,167.8 L717.4,168.1 L716.4,168.5 L715.4,168.8 L714.4,169.2 L713.4,169.5 L712.4,169.8 L711.4,170.2 L710.4,170.5 L709.4,170.9 L708.4,171.2 L707.4,171.6 L706.4,171.9 L705.4,172.3 L704.4,172.6 L703.4,172.9 L702.4,173.2 L701.4,173.5 L700.4,173.7 L699.4,174.0 L698.4,174.3 L697.4,174.6 L696.4,174.9 L695.4,175.2 L694.4,175.5 L693.4,175.8 L692.4,176.1 L691.4,176.4 L690.4,176.7 L689.4,177.1 L688.4,177.4 L687.4,177.7 L686.4,178.0 L685.4,178.3 L684.4,178.6 L683.4,178.9 L682.4,179.3 L681.4,179.6 L680.4,179.9 L679.4,180.1 L678.4,180.4 L677.4,180.6 L676.4,180.8 L675.4,181.0 L674.4,181.3 L673.4,181.5 L672.4,181.7 L671.4,181.9 L670.4,182.2 L669.4,182.4 L668.4,182.6 L667.4,182.8 L666.4,183.1 L665.4,183.3 L664.4,183.5 L663.4,183.7 L662.4,184.0 L661.4,184.2 L660.4,184.4 L659.4,184.6 L658.4,184.7 L657.4,184.8 L656.4,185.0 L655.4,185.1 L654.4,185.2 L653.4,185.3 L652.4,185.5 L651.4,185.6 L650.4,185.7 L649.4,185.9 L648.4,186.0 L647.4,186.1 L646.4,186.2 L645.4,186.4 L644.4,186.5 L643.4,186.6 L642.4,186.8 L641.4,186.9 L640.4,187.0 L639.4,187.1 L638.4,187.3 L637.4,187.4 L636.4,187.5 L635.4,187.6 L634.4,187.8 L633.4,187.9 L632.4,188.0 L631.4,188.2 L630.4,188.3 L629.4,188.4 L628.4,188.5 L627.4,188.7 L626.4,188.8 L625.4,188.9 L624.4,189.1 L623.4,189.2 L622.4,189.3 L621.4,189.4 L620.4,189.6 L619.4,189.7 L618.4,189.8 L617.4,189.9 L616.4,190.1 L615.4,190.2 L614.4,190.3 L613.4,190.5 L612.4,190.5 L611.4,190.6 L610.4,190.7 L609.4,190.7 L608.4,190.8 L607.4,190.9 L606.4,190.9 L605.4,191.0 L604.4,191.1 L603.4,191.1 L602.4,191.2 L601.4,191.2 L600.4,191.3 L599.4,191.4 L598.4,191.4 L597.4,191.5 L596.4,191.6 L595.4,191.6 L594.4,191.7 L593.4,191.8 L592.4,191.8 L591.4,191.9 L590.4,191.9 L589.4,192.0 L588.4,192.1 L587.4,192.1 L586.4,192.2 L585.4,192.3 L584.4,192.3 L583.4,192.4 L582.4,192.5 L581.4,192.5 L580.4,192.6 L579.4,192.6 L578.4,192.7 L577.4,192.7 L576.4,192.8 L575.4,192.9 L574.4,192.9 M766.0,115.8 L767.0,118.6 L768.0,121.3 L769.0,124.5 L770.0,128.1 L771.0,131.8 L772.0,135.4 L773.0,137.6 L774.0,139.2 L775.0,140.8 L776.0,142.5 L777.0,144.1 L778.0,145.7 L779.0,146.8 L780.0,147.8 L781.0,148.8 L782.0,149.8 L783.0,150.9 L784.0,151.9 L785.0,152.9 L786.0,153.9 L787.0,154.9 L788.0,155.6 L789.0,156.3 L790.0,157.0 L791.0,157.7 L792.0,158.4 L793.0,159.2 L794.0,159.9 L795.0,160.6 L796.0,161.3 L797.0,162.0 L798.0,162.6 L799.0,163.1 L800.0,163.6 L801.0,164.1 L802.0,164.6 L803.0,165.1 L804.0,165.6 L805.0,166.1 L806.0,166.6 L807.0,167.1 L808.0,167.5 L809.0,167.9 L810.0,168.2 L811.0,168.6 L812.0,168.9 L813.0,169.3 L814.0,169.6 L815.0,170.0 L816.0,170.3 L817.0,170.7 L818.0,171.0 L819.0,171.4 L820.0,171.7 L821.0,172.0 L822.0,172.4 L823.0,172.7 L824.0,173.0 L825.0,173.3 L826.0,173.6 L827.0,173.8 L828.0,174.1 L829.0,174.4 L830.0,174.7 L831.0,175.0 L832.0,175.3 L833.0,175.6 L834.0,175.9 L835.0,176.2 L836.0,176.5 L837.0,176.9 L838.0,177.2 L839.0,177.5 L840.0,177.8 L841.0,178.1 L842.0,178.4 L843.0,178.7 L844.0,179.1 L845.0,179.4 L846.0,179.7 L847.0,180.0 L848.0,180.2 L849.0,180.4 L850.0,180.7 L851.0,180.9 L852.0,181.1 L853.0,181.3 L854.0,181.6 L855.0,181.8 L856.0,182.0 L857.0,182.2 L858.0,182.5 L859.0,182.7 L860.0,182.9 L861.0,183.2 L862.0,183.4 L863.0,183.6 L864.0,183.8 L865.0,184.1 L866.0,184.3 L867.0,184.5 L868.0,184.6 L869.0,184.8 L870.0,184.9 L871.0,185.0 L872.0,185.1 L873.0,185.3 L874.0,185.4 L875.0,185.5 L876.0,185.6 L877.0,185.8 L878.0,185.9 L879.0,186.0 L880.0,186.2 L881.0,186.3 L882.0,186.4 L883.0,186.5 L884.0,186.7 L885.0,186.8 L886.0,186.9 L887.0,187.1 L888.0,187.2 L889.0,187.3 L890.0,187.4 L891.0,187.6 L892.0,187.7 L893.0,187.8 L894.0,187.9 L895.0,188.1 L896.0,188.2 L897.0,188.3 L898.0,188.5 L899.0,188.6 L900.0,188.7 L901.0,188.8 L902.0,189.0 L903.0,189.1 L904.0,189.2 L905.0,189.4 L906.0,189.5 L907.0,189.6 L908.0,189.7 L909.0,189.9 L910.0,190.0 L911.0,190.1 L912.0,190.2 L913.0,190.4 L914.0,190.5 L915.0,190.6 L916.0,190.6 L917.0,190.7 L918.0,190.8 L919.0,190.8 L920.0,190.9 L921.0,190.9 L922.0,191.0 L923.0,191.1 L924.0,191.1 L925.0,191.2 L926.0,191.3 L927.0,191.3 L928.0,191.4 L929.0,191.5 L930.0,191.5 L931.0,191.6 L932.0,191.6 L933.0,191.7 L934.0,191.8 L935.0,191.8 L936.0,191.9 L937.0,192.0 L938.0,192.0 L939.0,192.1 L940.0,192.2 L941.0,192.2 L942.0,192.3 L943.0,192.3 L944.0,192.4 L945.0,192.5 L946.0,192.5 L947.0,192.6 L948.0,192.7 L949.0,192.7 L950.0,192.8 L951.0,192.8 L952.0,192.9" fill="none" stroke="#0000ff" stroke-width="4.8" stroke-dasharray="12 3 3.5 3"/><path d="M761.5,73 L765.5,73 L767.5,100 L768.5,116 L758.5,116 L759.5,100Z" fill="#0000ff"/><rect x="761.5" y="34" width="4" height="4" fill="#0000ff"/><path d="M573.4,198.9 L575.5,198.9 L575.5,186.6 L576.9,186.6 L576.9,194.5 L578.5,194.5 L578.5,187.0 L579.5,187.0 L579.5,194.3 L581.9,194.3 L581.9,185.4 L583.3,185.4 L583.3,196.2 L585.6,196.2 L585.6,183.8 L587.8,183.8 L587.8,192.8 L589.5,192.8 L589.5,188.7 L590.6,188.7 L590.6,193.0 L592.0,193.0 L592.0,188.1 L593.0,188.1 L593.0,193.1 L595.3,193.1 L595.3,189.3 L597.5,189.3 L597.5,193.2 L598.5,193.2 L598.5,188.0 L599.5,188.0 L599.5,192.3 L601.2,192.3 L601.2,188.9 L602.6,188.9 L602.6,192.8 L604.1,192.8 L604.1,188.9 L606.0,188.9 L606.0,191.8 L608.2,191.8 L608.2,188.4 L609.6,188.4 L609.6,192.3 L611.3,192.3 L611.3,187.6 L612.6,187.6 L612.6,190.5 L614.9,190.5 L614.9,188.2 L617.1,188.2 L617.1,190.7 L619.5,190.7 L619.5,186.9 L621.8,186.9 L621.8,190.5 L623.1,190.5 L623.1,185.8 L625.1,185.8 L625.1,190.3 L626.7,190.3 L626.7,186.4 L628.6,186.4 L628.6,188.6 L630.6,188.6 L630.6,185.0 L632.1,185.0 L632.1,189.6 L633.4,189.6 L633.4,185.2 L635.5,185.2 L635.5,188.3 L637.5,188.3 L637.5,184.2 L639.8,184.2 L639.8,189.1 L641.8,189.1 L641.8,183.2 L643.0,183.2 L643.0,188.1 L645.2,188.1 L645.2,183.7 L647.0,183.7 L647.0,187.1 L649.3,187.1 L649.3,183.3 L650.9,183.3 L650.9,185.6 L652.5,185.6 L652.5,182.2 L654.8,182.2 L654.8,187.0 L656.3,187.0 L656.3,181.0 L657.5,181.0 L657.5,186.5 L658.7,186.5 L658.7,181.9 L659.8,181.9 L659.8,186.2 L662.0,186.2 L662.0,181.9 L663.7,181.9 L663.7,184.1 L665.4,184.1 L665.4,180.2 L666.6,180.2 L666.6,184.7 L668.0,184.7 L668.0,179.9 L669.0,179.9 L669.0,182.4 L670.3,182.4 L670.3,179.6 L672.6,179.6 L672.6,183.4 L674.3,183.4 L674.3,178.4 L676.2,178.4 L676.2,182.6 L677.7,182.6 L677.7,177.0 L679.3,177.0 L679.3,181.3 L681.3,181.3 L681.3,176.7 L683.3,176.7 L683.3,180.4 L684.3,180.4 L684.3,176.7 L685.5,176.7 L685.5,178.6 L686.8,178.6 L686.8,175.9 L688.1,175.9 L688.1,178.6 L690.3,178.6 L690.3,174.1 L691.8,174.1 L691.8,177.1 L693.8,177.1 L693.8,172.1 L696.1,172.1 L696.1,175.7 L698.1,175.7 L698.1,171.8 L700.2,171.8 L700.2,174.2 L702.4,174.2 L702.4,170.2 L704.5,170.2 L704.5,173.6 L705.9,173.6 L705.9,167.9 L707.0,167.9 L707.0,172.4 L708.7,172.4 L708.7,167.0 L710.9,167.0 L710.9,170.9 L712.7,170.9 L712.7,165.5 L714.5,165.5 L714.5,177.8 L716.2,177.8 L716.2,159.2 L717.9,159.2" fill="none" stroke="#ff0000" stroke-width="3.2" stroke-linejoin="miter" stroke-miterlimit="3"/><path d="M809.5,175.2 L811.0,175.2 L811.0,160.9 L812.6,160.9 L812.6,180.0 L814.4,180.0 L814.4,164.9 L815.9,164.9 L815.9,173.1 L817.1,173.1 L817.1,168.0 L819.3,168.0 L819.3,172.0 L821.6,172.0 L821.6,168.6 L823.7,168.6 L823.7,172.9 L825.0,172.9 L825.0,169.6 L826.6,169.6 L826.6,174.9 L827.8,174.9 L827.8,171.8 L829.5,171.8 L829.5,176.0 L831.3,176.0 L831.3,172.9 L833.5,172.9 L833.5,175.9 L835.1,175.9 L835.1,173.1 L836.5,173.1 L836.5,177.5 L838.8,177.5 L838.8,174.5 L840.5,174.5 L840.5,179.9 L841.9,179.9 L841.9,174.6 L843.4,174.6 L843.4,179.4 L845.7,179.4 L845.7,177.5 L847.9,177.5 L847.9,181.8 L850.1,181.8 L850.1,178.7 L851.5,178.7 L851.5,182.5 L853.1,182.5 L853.1,179.4 L855.0,179.4 L855.0,183.4 L857.4,183.4 L857.4,180.1 L858.7,180.1 L858.7,184.3 L859.9,184.3 L859.9,180.4 L861.5,180.4 L861.5,184.0 L863.3,184.0 L863.3,179.9 L865.2,179.9 L865.2,185.3 L867.0,185.3 L867.0,182.1 L868.6,182.1 L868.6,186.7 L870.9,186.7 L870.9,181.5 L872.6,181.5 L872.6,186.9 L874.5,186.9 L874.5,182.7 L876.3,182.7 L876.3,186.0 L878.1,186.0 L878.1,183.3 L880.1,183.3 L880.1,187.8 L882.5,187.8 L882.5,182.8 L883.6,182.8 L883.6,188.0 L885.8,188.0 L885.8,183.2 L887.4,183.2 L887.4,188.0 L889.2,188.0 L889.2,185.1 L891.5,185.1 L891.5,189.6 L892.9,189.6 L892.9,183.9 L894.2,183.9 L894.2,188.0 L896.2,188.0 L896.2,184.6 L897.5,184.6 L897.5,190.3 L899.0,190.3 L899.0,186.3 L900.5,186.3 L900.5,188.9 L902.6,188.9 L902.6,186.5 L904.5,186.5 L904.5,190.2 L905.7,190.2 L905.7,186.3 L908.1,186.3 L908.1,190.0 L910.4,190.0 L910.4,187.9 L912.2,187.9 L912.2,190.5 L914.6,190.5 L914.6,187.5 L916.8,187.5 L916.8,192.1 L918.4,192.1 L918.4,188.3 L920.7,188.3 L920.7,192.7 L922.8,192.7 L922.8,187.5 L923.8,187.5 L923.8,191.5 L925.6,191.5 L925.6,189.2 L927.4,189.2 L927.4,193.2 L928.9,193.2 L928.9,188.1 L930.2,188.1 L930.2,193.1 L932.5,193.1 L932.5,188.1 L934.1,188.1 L934.1,192.4 L935.2,192.4 L935.2,188.2 L937.5,188.2 L937.5,193.1 L939.5,193.1 L939.5,189.7 L941.6,189.7 L941.6,195.1 L943.6,195.1 L943.6,188.9 L945.1,188.9 L945.1,195.2 L946.2,195.2 L946.2,187.7 L948.5,187.7 L948.5,195.8 L949.7,195.8 L949.7,185.6 L951.7,185.6 L951.7,196.2 L954.0,196.2" fill="none" stroke="#ff0000" stroke-width="3.2" stroke-linejoin="miter" stroke-miterlimit="3"/><g fill="#ff0000"><path d="M686.1,123.3 L690.6,123.3 L690.6,160.4 L692.0,163.9 L693.2,167.4 L694.0,170.2 L694.5,172.7 L694.6,174.4 L694.6,179.4 L682.0,179.4 L682.0,174.4 L682.2,172.7 L682.7,170.2 L683.5,167.4 L684.7,163.9 L686.1,160.4Z"/><rect x="679.3" y="174.1" width="1.8" height="4.3"/><rect x="681.2" y="172.7" width="1.7" height="6.9"/><rect x="682.9" y="170.1" width="2.1" height="12.0"/><rect x="685.0" y="168.1" width="1.5" height="15.9"/><rect x="686.5" y="168.5" width="1.4" height="14.1"/><rect x="687.9" y="166.5" width="1.7" height="17.6"/><rect x="689.6" y="166.3" width="1.8" height="18.1"/><rect x="691.4" y="168.4" width="1.8" height="13.0"/><rect x="693.2" y="172.5" width="1.6" height="9.1"/><rect x="694.7" y="173.7" width="1.6" height="6.3"/><rect x="696.3" y="175.7" width="1.5" height="2.6"/><path d="M836.5,123.3 L841.0,123.3 L841.0,160.4 L842.4,163.9 L843.6,167.4 L844.4,170.2 L844.9,172.7 L845.0,174.4 L845.0,179.4 L832.5,179.4 L832.5,174.4 L832.6,172.7 L833.1,170.2 L833.9,167.4 L835.1,163.9 L836.5,160.4Z"/><rect x="829.8" y="174.6" width="1.7" height="4.4"/><rect x="831.5" y="172.3" width="1.5" height="7.3"/><rect x="833.0" y="170.7" width="1.5" height="9.3"/><rect x="834.5" y="167.5" width="1.8" height="16.6"/><rect x="836.2" y="169.6" width="1.5" height="12.4"/><rect x="837.8" y="165.5" width="1.9" height="19.2"/><rect x="839.7" y="170.4" width="2.0" height="15.1"/><rect x="841.7" y="169.9" width="1.7" height="13.2"/><rect x="843.3" y="169.8" width="1.5" height="11.6"/><rect x="844.8" y="174.2" width="2.0" height="4.9"/><rect x="846.8" y="176.4" width="2.1" height="1.5"/><path d="M655.3,147.3 L659.5,147.3 L659.5,171.8 L660.8,174.3 L661.8,176.8 L662.5,178.8 L662.9,180.6 L663.0,181.8 L663.0,186.8 L651.8,186.8 L651.8,181.8 L652.0,180.6 L652.4,178.8 L653.1,176.8 L654.1,174.3 L655.3,171.8Z"/><rect x="650.4" y="182.9" width="1.2" height="2.9"/><rect x="651.7" y="181.2" width="2.0" height="5.6"/><rect x="653.7" y="179.8" width="1.2" height="10.0"/><rect x="654.9" y="179.7" width="1.7" height="8.0"/><rect x="656.7" y="175.0" width="1.5" height="13.8"/><rect x="658.1" y="175.4" width="1.2" height="16.5"/><rect x="659.3" y="179.8" width="1.8" height="9.3"/><rect x="661.2" y="180.1" width="1.4" height="6.4"/><rect x="662.6" y="182.0" width="1.9" height="4.6"/><path d="M867.5,147.3 L871.8,147.3 L871.8,171.8 L873.0,174.3 L874.0,176.8 L874.7,178.8 L875.1,180.6 L875.2,181.8 L875.2,186.8 L864.0,186.8 L864.0,181.8 L864.2,180.6 L864.6,178.8 L865.3,176.8 L866.3,174.3 L867.5,171.8Z"/><rect x="862.6" y="183.0" width="1.4" height="3.7"/><rect x="864.1" y="180.3" width="1.7" height="8.2"/><rect x="865.8" y="177.7" width="1.5" height="10.3"/><rect x="867.2" y="176.5" width="1.8" height="13.3"/><rect x="869.0" y="174.7" width="1.9" height="17.9"/><rect x="870.9" y="180.0" width="1.6" height="9.1"/><rect x="872.5" y="181.2" width="2.1" height="7.6"/><rect x="874.6" y="181.6" width="1.5" height="5.1"/><rect x="876.1" y="183.8" width="2.0" height="1.5"/><path d="M631.6,135.4 L636.1,135.4 L636.1,172.8 L637.5,175.8 L638.7,178.8 L639.5,181.2 L640.0,183.4 L640.1,184.8 L640.1,189.8 L627.5,189.8 L627.5,184.8 L627.7,183.4 L628.2,181.2 L629.0,178.8 L630.2,175.8 L631.6,172.8Z"/><rect x="624.8" y="185.7" width="1.4" height="4.0"/><rect x="626.2" y="183.5" width="1.9" height="7.3"/><rect x="628.1" y="180.3" width="2.2" height="11.1"/><rect x="630.3" y="179.9" width="1.5" height="11.3"/><rect x="631.8" y="179.2" width="1.8" height="16.9"/><rect x="633.6" y="175.4" width="1.4" height="17.2"/><rect x="635.0" y="180.6" width="2.1" height="16.7"/><rect x="637.1" y="182.0" width="2.1" height="10.7"/><rect x="639.3" y="183.8" width="2.0" height="6.7"/><rect x="641.3" y="185.8" width="1.4" height="3.1"/><rect x="642.7" y="186.8" width="1.8" height="1.5"/><path d="M891.0,135.4 L895.5,135.4 L895.5,172.8 L896.9,175.8 L898.1,178.8 L898.9,181.2 L899.4,183.4 L899.5,184.8 L899.5,189.8 L887.0,189.8 L887.0,184.8 L887.1,183.4 L887.6,181.2 L888.4,178.8 L889.6,175.8 L891.0,172.8Z"/><rect x="884.2" y="185.6" width="1.2" height="3.5"/><rect x="885.5" y="183.8" width="1.6" height="6.4"/><rect x="887.1" y="181.8" width="1.6" height="9.9"/><rect x="888.7" y="179.7" width="1.3" height="14.0"/><rect x="890.0" y="179.3" width="1.8" height="12.1"/><rect x="891.8" y="180.1" width="1.4" height="12.5"/><rect x="893.3" y="177.2" width="1.4" height="18.2"/><rect x="894.6" y="180.8" width="1.8" height="16.5"/><rect x="896.5" y="180.2" width="1.4" height="14.6"/><rect x="897.8" y="183.4" width="1.9" height="8.6"/><rect x="899.7" y="183.4" width="1.2" height="6.7"/><rect x="900.9" y="185.7" width="1.2" height="3.7"/><rect x="902.2" y="186.8" width="1.7" height="1.5"/><path d="M611.5,149.8 L615.8,149.8 L615.8,179.4 L617.0,181.4 L618.0,183.4 L618.7,185.0 L619.1,186.5 L619.2,187.4 L619.2,192.4 L608.0,192.4 L608.0,187.4 L608.2,186.5 L608.6,185.0 L609.3,183.4 L610.3,181.4 L611.5,179.4Z"/><rect x="606.6" y="188.0" width="1.9" height="5.2"/><rect x="608.5" y="186.2" width="1.3" height="8.1"/><rect x="609.8" y="184.8" width="1.3" height="13.1"/><rect x="611.1" y="185.7" width="1.3" height="14.4"/><rect x="612.5" y="182.5" width="2.1" height="16.2"/><rect x="614.5" y="184.3" width="1.6" height="14.2"/><rect x="616.1" y="184.7" width="1.7" height="11.0"/><rect x="617.8" y="187.7" width="1.6" height="7.4"/><rect x="619.5" y="188.9" width="1.7" height="3.0"/><path d="M911.3,149.8 L915.5,149.8 L915.5,179.4 L916.8,181.4 L917.8,183.4 L918.5,185.0 L918.9,186.5 L919.0,187.4 L919.0,192.4 L907.8,192.4 L907.8,187.4 L908.0,186.5 L908.4,185.0 L909.1,183.4 L910.1,181.4 L911.3,179.4Z"/><rect x="906.4" y="188.5" width="2.1" height="3.3"/><rect x="908.5" y="186.9" width="1.8" height="7.7"/><rect x="910.3" y="184.4" width="1.2" height="13.8"/><rect x="911.5" y="183.6" width="1.5" height="10.4"/><rect x="913.1" y="184.7" width="1.6" height="11.4"/><rect x="914.6" y="186.2" width="1.6" height="12.6"/><rect x="916.2" y="186.1" width="1.5" height="8.1"/><rect x="917.7" y="186.8" width="1.6" height="7.9"/><rect x="919.3" y="189.1" width="2.0" height="2.1"/><path d="M577.7,129.8 L582.2,129.8 L582.2,177.6 L583.5,180.6 L584.5,183.6 L585.3,186.0 L585.7,188.2 L585.8,189.6 L585.8,194.6 L574.1,194.6 L574.1,189.6 L574.2,188.2 L574.6,186.0 L575.4,183.6 L576.4,180.6 L577.7,177.6Z"/><rect x="571.9" y="189.4" width="2.2" height="4.5"/><rect x="574.1" y="187.4" width="2.0" height="8.9"/><rect x="576.1" y="185.1" width="1.2" height="10.2"/><rect x="577.3" y="184.1" width="1.9" height="13.6"/><rect x="579.2" y="181.3" width="1.9" height="18.4"/><rect x="581.1" y="183.5" width="1.8" height="17.1"/><rect x="582.8" y="187.2" width="1.8" height="8.6"/><rect x="584.7" y="187.8" width="2.1" height="7.1"/><rect x="586.8" y="191.1" width="1.9" height="2.4"/><path d="M944.9,129.8 L949.4,129.8 L949.4,177.6 L950.7,180.6 L951.7,183.6 L952.5,186.0 L952.9,188.2 L953.0,189.6 L953.0,194.6 L941.3,194.6 L941.3,189.6 L941.4,188.2 L941.8,186.0 L942.6,183.6 L943.6,180.6 L944.9,177.6Z"/><rect x="939.1" y="190.2" width="1.9" height="4.6"/><rect x="941.1" y="186.7" width="1.9" height="8.5"/><rect x="943.0" y="184.8" width="2.0" height="11.8"/><rect x="945.0" y="185.7" width="2.0" height="10.5"/><rect x="946.9" y="186.0" width="2.0" height="11.5"/><rect x="948.9" y="183.3" width="1.2" height="13.5"/><rect x="950.2" y="185.5" width="1.9" height="12.4"/><rect x="952.1" y="189.4" width="1.4" height="6.0"/><rect x="953.5" y="190.4" width="1.6" height="4.2"/><rect x="955.1" y="191.6" width="2.0" height="1.5"/></g><g fill="#ff0000"><rect x="761.3" y="36" width="4.4" height="24"/><path d="M763.5,57.0 L757.1,57.0 L757.1,60.6 L757.5,60.6 L757.5,64.2 L752.4,64.2 L752.4,67.8 L754.5,67.8 L754.5,71.4 L750.2,71.4 L750.2,75.0 L749.2,75.0 L749.2,78.6 L749.6,78.6 L749.6,82.2 L746.4,82.2 L746.4,85.8 L745.7,85.8 L745.7,89.4 L742.0,89.4 L742.0,93.0 L743.8,93.0 L743.8,96.6 L741.5,96.6 L741.5,100.2 L739.2,100.2 L739.2,103.8 L739.7,103.8 L739.7,107.4 L736.1,107.4 L736.1,111.0 L735.2,111.0 L735.2,114.6 L732.3,114.6 L732.3,118.2 L732.0,118.2 L732.0,121.8 L729.7,121.8 L729.7,125.4 L728.5,125.4 L728.5,129.0 L729.1,129.0 L729.1,132.6 L725.6,132.6 L725.6,136.2 L725.1,136.2 L725.1,139.8 L725.8,139.8 L725.8,143.4 L724.1,143.4 L724.1,147.0 L721.5,147.0 L721.5,150.6 L719.2,150.6 L719.2,154.2 L716.4,154.2 L716.4,157.8 L714.4,157.8 L714.4,161.4 L716.4,161.4 L716.4,165.0 L712.8,165.0 L712.8,168.6 L709.5,168.6 L709.5,172.2 L710.2,172.2 L710.2,175.8 L709.3,175.8 L709.3,176.0 L726.3,176.0 L726.3,172.8 L727.3,172.8 L727.3,169.2 L726.4,169.2 L726.4,165.6 L728.8,165.6 L728.8,162.0 L729.1,162.0 L729.1,158.4 L730.7,158.4 L730.7,154.8 L732.6,154.8 L732.6,151.2 L733.1,151.2 L733.1,147.6 L737.7,147.6 L737.7,144.0 L738.0,144.0 L738.0,140.4 L740.4,140.4 L740.4,136.8 L740.8,136.8 L740.8,133.2 L742.9,133.2 L742.9,129.6 L744.8,129.6 L744.8,126.0 L743.9,126.0 L743.9,122.4 L745.9,122.4 L745.9,118.8 L748.4,118.8 L748.4,115.2 L749.0,115.2 L749.0,111.6 L749.5,111.6 L749.5,108.0 L751.5,108.0 L751.5,104.4 L753.8,104.4 L753.8,100.8 L752.0,100.8 L752.0,97.2 L753.1,97.2 L753.1,93.6 L757.5,93.6 L757.5,90.0 L756.0,90.0 L756.0,86.4 L756.8,86.4 L756.8,82.8 L760.2,82.8 L760.2,79.2 L761.2,79.2 L761.2,75.6 L762.2,75.6 L762.2,72.0 L763.5,71.0Z"/><path d="M763.5,57.0 L771.1,57.0 L771.1,60.6 L772.5,60.6 L772.5,64.2 L771.7,64.2 L771.7,67.8 L776.4,67.8 L776.4,71.4 L775.7,71.4 L775.7,75.0 L776.6,75.0 L776.6,78.6 L780.3,78.6 L780.3,82.2 L782.2,82.2 L782.2,85.8 L782.7,85.8 L782.7,89.4 L782.3,89.4 L782.3,93.0 L784.1,93.0 L784.1,96.6 L787.3,96.6 L787.3,100.2 L787.5,100.2 L787.5,103.8 L787.9,103.8 L787.9,107.4 L790.5,107.4 L790.5,111.0 L791.1,111.0 L791.1,114.6 L791.1,114.6 L791.1,118.2 L793.9,118.2 L793.9,121.8 L796.6,121.8 L796.6,125.4 L799.0,125.4 L799.0,129.0 L799.7,129.0 L799.7,132.6 L800.5,132.6 L800.5,136.2 L800.2,136.2 L800.2,139.8 L802.2,139.8 L802.2,143.4 L805.8,143.4 L805.8,147.0 L804.7,147.0 L804.7,150.6 L808.3,150.6 L808.3,154.2 L808.8,154.2 L808.8,157.8 L813.0,157.8 L813.0,161.4 L814.5,161.4 L814.5,165.0 L815.7,165.0 L815.7,168.6 L814.2,168.6 L814.2,172.2 L816.7,172.2 L816.7,175.8 L817.5,175.8 L817.5,176.0 L802.4,176.0 L802.4,172.8 L799.6,172.8 L799.6,169.2 L799.3,169.2 L799.3,165.6 L797.1,165.6 L797.1,162.0 L799.1,162.0 L799.1,158.4 L795.0,158.4 L795.0,154.8 L793.2,154.8 L793.2,151.2 L791.3,151.2 L791.3,147.6 L790.5,147.6 L790.5,144.0 L790.4,144.0 L790.4,140.4 L788.7,140.4 L788.7,136.8 L784.8,136.8 L784.8,133.2 L785.0,133.2 L785.0,129.6 L783.5,129.6 L783.5,126.0 L782.2,126.0 L782.2,122.4 L781.3,122.4 L781.3,118.8 L780.7,118.8 L780.7,115.2 L778.0,115.2 L778.0,111.6 L778.9,111.6 L778.9,108.0 L774.7,108.0 L774.7,104.4 L773.5,104.4 L773.5,100.8 L775.2,100.8 L775.2,97.2 L771.9,97.2 L771.9,93.6 L772.2,93.6 L772.2,90.0 L770.4,90.0 L770.4,86.4 L769.7,86.4 L769.7,82.8 L768.4,82.8 L768.4,79.2 L764.2,79.2 L764.2,75.6 L764.5,75.6 L764.5,72.0 L763.5,71.0Z"/></g></g><g clip-path="url(#clipD)"><path d="M578.0,440.1 L579.0,440.0 L580.0,439.9 L581.0,439.8 L582.0,439.7 L583.0,439.6 L584.0,439.5 L585.0,439.4 L586.0,439.3 L587.0,439.2 L588.0,439.1 L589.0,439.0 L590.0,438.9 L591.0,438.9 L592.0,438.8 L593.0,438.7 L594.0,438.6 L595.0,438.5 L596.0,438.4 L597.0,438.3 L598.0,438.2 L599.0,438.1 L600.0,438.0 L601.0,438.0 L602.0,437.9 L603.0,437.8 L604.0,437.8 L605.0,437.7 L606.0,437.6 L607.0,437.6 L608.0,437.5 L609.0,437.4 L610.0,437.4 L611.0,437.3 L612.0,437.2 L613.0,437.2 L614.0,437.1 L615.0,437.0 L616.0,436.9 L617.0,436.9 L618.0,436.8 L619.0,436.7 L620.0,436.7 L621.0,436.6 L622.0,436.5 L623.0,436.5 L624.0,436.4 L625.0,436.3 L626.0,436.3 L627.0,436.2 L628.0,436.1 L629.0,436.0 L630.0,435.9 L631.0,435.7 L632.0,435.6 L633.0,435.4 L634.0,435.3 L635.0,435.1 L636.0,435.0 L637.0,434.8 L638.0,434.7 L639.0,434.5 L640.0,434.4 L641.0,434.2 L642.0,434.1 L643.0,433.9 L644.0,433.8 L645.0,433.6 L646.0,433.5 L647.0,433.3 L648.0,433.1 L649.0,433.0 L650.0,432.8 L651.0,432.7 L652.0,432.5 L653.0,432.4 L654.0,432.2 L655.0,432.1 L656.0,431.9 L657.0,431.8 L658.0,431.6 L659.0,431.5 L660.0,431.3 L661.0,431.2 L662.0,431.0 L663.0,430.9 L664.0,430.7 L665.0,430.6 L666.0,430.4 L667.0,430.3 L668.0,430.1 L669.0,430.0 L670.0,429.8 L671.0,429.7 L672.0,429.5 L673.0,429.4 L674.0,429.2 L675.0,429.1 L676.0,428.9 L677.0,428.8 L678.0,428.6 L679.0,428.5 L680.0,428.3 L681.0,428.2 L682.0,428.0 L683.0,427.8 L684.0,427.6 L685.0,427.4 L686.0,427.2 L687.0,426.9 L688.0,426.7 L689.0,426.5 L690.0,426.3 L691.0,426.1 L692.0,425.9 L693.0,425.7 L694.0,425.5 L695.0,425.2 L696.0,425.0 L697.0,424.8 L698.0,424.6 L699.0,424.4 L700.0,424.2 L701.0,424.0 L702.0,423.8 L703.0,423.5 L704.0,423.3 L705.0,423.0 L706.0,422.8 L707.0,422.6 L708.0,422.3 L709.0,422.1 L710.0,421.8 L711.0,421.6 L712.0,421.4 L713.0,421.1 L714.0,420.9 L715.0,420.7 L716.0,420.4 L717.0,420.2 L718.0,419.9 L719.0,419.7 L720.0,419.4 L721.0,419.0 L722.0,418.7 L723.0,418.4 L724.0,418.0 L725.0,417.7 L726.0,417.4 L727.0,417.1 L728.0,416.7 L729.0,416.4 L730.0,416.1 L731.0,415.7 L732.0,415.2 L733.0,414.6 L734.0,413.9 L735.0,413.2 L736.0,412.6 L737.0,411.9 L738.0,411.3 L739.0,410.6 L740.0,410.0 L741.0,409.3 L742.0,408.7 L743.0,408.0 L744.0,407.5 L745.0,407.0 L746.0,406.5 L747.0,406.0 L748.0,405.5 L749.0,405.0 L750.0,404.5 L751.0,404.0 L752.0,397.4 L753.0,390.8 L754.0,384.2 L755.0,377.7 L756.0,371.1 L757.0,364.5 L758.0,357.9 L759.0,351.3 L760.0,347.1 L761.0,343.5 L762.0,339.9 L763.0,336.3 L764.0,332.8 L765.0,330.7 L766.0,328.7 L767.0,326.6 L767.3,326.0 L768.3,328.1 L769.3,330.1 L770.3,332.2 L771.3,335.2 L772.3,338.8 L773.3,342.4 L774.3,346.0 L775.3,349.6 L776.3,355.9 L777.3,362.5 L778.3,369.1 L779.3,375.7 L780.3,382.3 L781.3,388.9 L782.3,395.4 L783.3,402.0 L784.3,404.4 L785.3,404.9 L786.3,405.4 L787.3,405.9 L788.3,406.4 L789.3,406.9 L790.3,407.4 L791.3,407.9 L792.3,408.5 L793.3,409.1 L794.3,409.8 L795.3,410.4 L796.3,411.1 L797.3,411.7 L798.3,412.4 L799.3,413.0 L800.3,413.7 L801.3,414.4 L802.3,415.0 L803.3,415.6 L804.3,416.0 L805.3,416.3 L806.3,416.6 L807.3,417.0 L808.3,417.3 L809.3,417.6 L810.3,417.9 L811.3,418.3 L812.3,418.6 L813.3,418.9 L814.3,419.3 L815.3,419.6 L816.3,419.9 L817.3,420.1 L818.3,420.3 L819.3,420.6 L820.3,420.8 L821.3,421.1 L822.3,421.3 L823.3,421.5 L824.3,421.8 L825.3,422.0 L826.3,422.3 L827.3,422.5 L828.3,422.7 L829.3,423.0 L830.3,423.2 L831.3,423.4 L832.3,423.7 L833.3,423.9 L834.3,424.1 L835.3,424.3 L836.3,424.5 L837.3,424.8 L838.3,425.0 L839.3,425.2 L840.3,425.4 L841.3,425.6 L842.3,425.8 L843.3,426.0 L844.3,426.2 L845.3,426.5 L846.3,426.7 L847.3,426.9 L848.3,427.1 L849.3,427.3 L850.3,427.5 L851.3,427.7 L852.3,427.9 L853.3,428.1 L854.3,428.3 L855.3,428.4 L856.3,428.6 L857.3,428.7 L858.3,428.9 L859.3,429.0 L860.3,429.2 L861.3,429.3 L862.3,429.5 L863.3,429.6 L864.3,429.8 L865.3,429.9 L866.3,430.1 L867.3,430.2 L868.3,430.4 L869.3,430.5 L870.3,430.7 L871.3,430.8 L872.3,431.0 L873.3,431.1 L874.3,431.3 L875.3,431.4 L876.3,431.6 L877.3,431.7 L878.3,431.9 L879.3,432.0 L880.3,432.2 L881.3,432.3 L882.3,432.5 L883.3,432.6 L884.3,432.8 L885.3,433.0 L886.3,433.1 L887.3,433.3 L888.3,433.4 L889.3,433.6 L890.3,433.7 L891.3,433.9 L892.3,434.0 L893.3,434.2 L894.3,434.3 L895.3,434.5 L896.3,434.6 L897.3,434.8 L898.3,434.9 L899.3,435.1 L900.3,435.2 L901.3,435.4 L902.3,435.5 L903.3,435.7 L904.3,435.8 L905.3,436.0 L906.3,436.1 L907.3,436.2 L908.3,436.2 L909.3,436.3 L910.3,436.4 L911.3,436.5 L912.3,436.5 L913.3,436.6 L914.3,436.7 L915.3,436.7 L916.3,436.8 L917.3,436.9 L918.3,436.9 L919.3,437.0 L920.3,437.1 L921.3,437.1 L922.3,437.2 L923.3,437.3 L924.3,437.3 L925.3,437.4 L926.3,437.5 L927.3,437.5 L928.3,437.6 L929.3,437.7 L930.3,437.7 L931.3,437.8 L932.3,437.9 L933.3,437.9 L934.3,438.0 L935.3,438.1 L936.3,438.2 L937.3,438.2 L938.3,438.3 L939.3,438.4 L940.3,438.5 L941.3,438.6 L942.3,438.7 L943.3,438.8 L944.3,438.9 L945.3,439.0 L946.3,439.1 L947.3,439.2 L948.3,439.3 L949.3,439.4 L950.3,439.5 L951.3,439.6 L952.3,439.7 L953.3,439.8 L954.3,439.9 L955.3,440.0 L956.3,440.1" fill="none" stroke="#0000ff" stroke-width="4.6" stroke-dasharray="10 3 3.5 3"/><path d="M577.0,439.4 L578.4,439.4 L578.4,438.0 L580.5,438.0 L580.5,439.0 L582.8,439.0 L582.8,437.4 L585.1,437.4 L585.1,438.2 L586.7,438.2 L586.7,437.3 L587.8,437.3 L587.8,437.9 L589.9,437.9 L589.9,436.7 L592.0,436.7 L592.0,437.7 L594.0,437.7 L594.0,436.6 L596.0,436.6 L596.0,437.2 L598.1,437.2 L598.1,435.9 L600.5,435.9 L600.5,437.2 L602.8,437.2 L602.8,435.7 L604.6,435.7 L604.6,437.0 L605.7,437.0 L605.7,435.7 L607.6,435.7 L607.6,436.5 L609.7,436.5 L609.7,435.5 L610.7,435.5 L610.7,436.1 L613.1,436.1 L613.1,435.3 L614.4,435.3 L614.4,436.0 L616.3,436.0 L616.3,434.8 L617.4,434.8 L617.4,436.1 L619.5,436.1 L619.5,434.8 L620.7,434.8 L620.7,435.7 L622.6,435.7 L622.6,434.6 L623.8,434.6 L623.8,435.6 L625.7,435.6 L625.7,434.1 L627.0,434.1 L627.0,435.3 L628.2,435.3 L628.2,434.4 L629.4,434.4 L629.4,435.1 L631.2,435.1 L631.2,433.6 L633.0,433.6 L633.0,434.5 L634.4,434.5 L634.4,433.1 L635.5,433.1 L635.5,434.0 L636.5,434.0 L636.5,433.1 L638.8,433.1 L638.8,433.6 L640.9,433.6 L640.9,432.1 L642.7,432.1 L642.7,433.1 L644.6,433.1 L644.6,431.6 L646.4,431.6 L646.4,432.5 L647.8,432.5 L647.8,431.1 L649.4,431.1 L649.4,432.0 L651.1,432.0 L651.1,430.5 L653.1,430.5 L653.1,431.1 L655.2,431.1 L655.2,429.8 L656.6,429.8 L656.6,431.0 L658.8,431.0 L658.8,429.5 L660.0,429.5 L660.0,430.5 L662.2,430.5 L662.2,429.1 L663.5,429.1 L663.5,430.0 L665.2,430.0 L665.2,428.8 L666.5,428.8 L666.5,429.2 L668.3,429.2 L668.3,428.0 L670.0,428.0 L670.0,428.7 L671.5,428.7 L671.5,427.6 L673.3,427.6 L673.3,428.4 L675.3,428.4 L675.3,426.7 L677.4,426.7 L677.4,427.7 L679.8,427.7 L679.8,426.5 L682.1,426.5 L682.1,427.0 L683.8,427.0 L683.8,425.4 L685.6,425.4 L685.6,426.4 L687.1,426.4 L687.1,424.9 L689.0,424.9 L689.0,425.4 L691.1,425.4 L691.1,424.2 L692.3,424.2 L692.3,424.7 L694.4,424.7 L694.4,423.4 L695.5,423.4 L695.5,424.0 L697.3,424.0 L697.3,423.0 L698.7,423.0 L698.7,423.3 L700.7,423.3 L700.7,422.2 L702.2,422.2 L702.2,422.7 L704.5,422.7 L704.5,421.2 L705.7,421.2 L705.7,421.9 L707.2,421.9 L707.2,420.5 L708.4,420.5" fill="none" stroke="#ff0000" stroke-width="3.6" stroke-linejoin="miter" stroke-miterlimit="3"/><path d="M827.3,421.8 L828.6,421.8 L828.6,420.6 L829.8,420.6 L829.8,422.1 L831.0,422.1 L831.0,421.2 L833.2,421.2 L833.2,422.9 L835.5,422.9 L835.5,422.2 L837.0,422.2 L837.0,423.7 L839.0,423.7 L839.0,422.9 L841.3,422.9 L841.3,424.4 L843.4,424.4 L843.4,424.2 L845.7,424.2 L845.7,425.4 L847.9,425.4 L847.9,425.1 L850.2,425.1 L850.2,426.5 L851.7,426.5 L851.7,425.9 L853.5,425.9 L853.5,427.1 L855.5,427.1 L855.5,426.6 L856.8,426.6 L856.8,427.9 L858.6,427.9 L858.6,427.0 L859.9,427.0 L859.9,427.9 L861.2,427.9 L861.2,427.3 L863.1,427.3 L863.1,428.8 L865.2,428.8 L865.2,428.0 L866.4,428.0 L866.4,429.1 L868.0,429.1 L868.0,428.3 L869.5,428.3 L869.5,429.7 L870.7,429.7 L870.7,428.9 L872.8,428.9 L872.8,430.3 L874.9,430.3 L874.9,429.2 L877.0,429.2 L877.0,430.7 L879.1,430.7 L879.1,429.9 L880.7,429.9 L880.7,431.1 L882.9,431.1 L882.9,430.8 L885.0,430.8 L885.0,432.1 L886.6,432.1 L886.6,430.9 L888.1,430.9 L888.1,432.4 L889.9,432.4 L889.9,431.8 L891.3,431.8 L891.3,432.8 L893.0,432.8 L893.0,432.0 L894.9,432.0 L894.9,433.4 L896.6,433.4 L896.6,432.6 L898.1,432.6 L898.1,433.7 L899.5,433.7 L899.5,433.0 L900.6,433.0 L900.6,434.4 L902.0,434.4 L902.0,433.6 L903.6,433.6 L903.6,434.7 L904.8,434.7 L904.8,433.8 L906.9,433.8 L906.9,434.9 L908.8,434.9 L908.8,434.4 L910.4,434.4 L910.4,435.6 L912.1,435.6 L912.1,434.8 L913.1,434.8 L913.1,435.5 L915.4,435.5 L915.4,434.9 L917.0,434.9 L917.0,435.7 L919.1,435.7 L919.1,435.0 L920.6,435.0 L920.6,436.0 L922.8,436.0 L922.8,435.3 L923.9,435.3 L923.9,436.5 L925.2,436.5 L925.2,435.6 L926.6,435.6 L926.6,436.5 L928.9,436.5 L928.9,435.8 L930.5,435.8 L930.5,436.8 L932.9,436.8 L932.9,435.6 L934.5,435.6 L934.5,437.0 L936.1,437.0 L936.1,436.3 L938.2,436.3 L938.2,437.6 L939.8,437.6 L939.8,436.3 L941.8,436.3 L941.8,437.7 L944.0,437.7 L944.0,436.6 L946.3,436.6 L946.3,438.1 L947.6,438.1 L947.6,437.1 L949.9,437.1 L949.9,438.5 L951.3,438.5 L951.3,437.4 L953.5,437.4 L953.5,438.8 L955.7,438.8 L955.7,438.1 L956.8,438.1 L956.8,438.9 L958.4,438.9" fill="none" stroke="#ff0000" stroke-width="3.6" stroke-linejoin="miter" stroke-miterlimit="3"/><g fill="#ff0000"><path d="M689.6,382.6 L694.1,382.6 L696.2,411.4 L698.4,414.2 L699.4,416.9 L699.9,419.1 L700.1,421.1 L700.1,422.4 L700.1,427.4 L683.6,427.4 L683.6,422.4 L683.6,421.1 L683.9,419.1 L684.4,416.9 L685.4,414.2 L687.5,411.4Z"/><rect x="683.9" y="422.7" width="1.7" height="3.6"/><rect x="685.6" y="420.9" width="1.5" height="5.5"/><rect x="687.2" y="419.7" width="1.4" height="7.4"/><rect x="688.5" y="416.0" width="2.2" height="11.4"/><rect x="690.7" y="417.9" width="1.9" height="10.4"/><rect x="692.6" y="415.5" width="2.0" height="11.4"/><rect x="694.6" y="418.7" width="1.6" height="8.5"/><rect x="696.2" y="420.2" width="1.3" height="6.8"/><rect x="697.5" y="423.0" width="2.1" height="3.2"/><rect x="699.6" y="424.4" width="2.1" height="1.5"/><path d="M840.4,382.6 L844.9,382.6 L847.0,411.4 L849.1,414.2 L850.2,416.9 L850.7,419.1 L850.9,421.1 L850.9,422.4 L850.9,427.4 L834.4,427.4 L834.4,422.4 L834.4,421.1 L834.7,419.1 L835.2,416.9 L836.2,414.2 L838.3,411.4Z"/><rect x="834.7" y="423.4" width="1.5" height="2.8"/><rect x="836.2" y="421.8" width="1.6" height="4.8"/><rect x="837.8" y="418.5" width="1.3" height="8.2"/><rect x="839.1" y="417.6" width="1.2" height="9.3"/><rect x="840.3" y="417.1" width="1.4" height="10.2"/><rect x="841.7" y="414.3" width="1.6" height="13.1"/><rect x="843.4" y="419.2" width="2.1" height="7.9"/><rect x="845.5" y="418.3" width="2.0" height="9.1"/><rect x="847.4" y="420.6" width="1.2" height="6.4"/><rect x="848.7" y="422.1" width="1.4" height="4.5"/><rect x="850.0" y="424.2" width="1.2" height="1.8"/><path d="M658.6,374.8 L663.4,374.8 L665.8,408.7 L668.1,413.4 L669.3,418.2 L669.9,422.0 L670.1,425.4 L670.1,427.7 L670.1,432.7 L651.9,432.7 L651.9,427.7 L651.9,425.4 L652.1,422.0 L652.7,418.2 L653.9,413.4 L656.2,408.7Z"/><rect x="652.0" y="428.5" width="1.4" height="3.7"/><rect x="653.4" y="424.6" width="1.4" height="9.7"/><rect x="654.8" y="424.8" width="1.3" height="11.4"/><rect x="656.1" y="422.3" width="1.7" height="15.3"/><rect x="657.8" y="414.9" width="2.0" height="20.5"/><rect x="659.8" y="415.2" width="2.1" height="19.7"/><rect x="661.9" y="420.1" width="1.3" height="19.2"/><rect x="663.2" y="422.2" width="1.8" height="13.5"/><rect x="665.0" y="420.5" width="2.1" height="15.3"/><rect x="667.0" y="424.7" width="1.8" height="7.8"/><rect x="668.9" y="429.4" width="2.2" height="2.0"/><path d="M871.2,374.8 L876.0,374.8 L878.4,408.7 L880.7,413.4 L881.9,418.2 L882.5,422.0 L882.7,425.4 L882.7,427.7 L882.7,432.7 L864.4,432.7 L864.4,427.7 L864.4,425.4 L864.7,422.0 L865.3,418.2 L866.5,413.4 L868.8,408.7Z"/><rect x="864.6" y="427.1" width="1.9" height="5.7"/><rect x="866.5" y="424.4" width="1.6" height="11.4"/><rect x="868.2" y="423.2" width="1.2" height="13.9"/><rect x="869.4" y="423.0" width="1.9" height="14.2"/><rect x="871.3" y="415.1" width="1.3" height="21.1"/><rect x="872.6" y="416.6" width="1.5" height="25.4"/><rect x="874.2" y="420.8" width="1.6" height="16.5"/><rect x="875.8" y="418.3" width="1.4" height="15.8"/><rect x="877.2" y="422.4" width="1.6" height="14.5"/><rect x="878.7" y="422.8" width="1.8" height="11.4"/><rect x="880.6" y="425.9" width="1.6" height="6.5"/><rect x="882.1" y="429.7" width="2.1" height="1.5"/><path d="M634.8,383.3 L639.3,383.3 L641.4,417.3 L643.5,420.8 L644.6,424.3 L645.1,427.1 L645.3,429.6 L645.3,431.3 L645.3,436.3 L628.8,436.3 L628.8,431.3 L628.8,429.6 L629.1,427.1 L629.6,424.3 L630.6,420.8 L632.7,417.3Z"/><rect x="629.1" y="432.2" width="1.4" height="3.5"/><rect x="630.5" y="428.8" width="1.9" height="7.3"/><rect x="632.4" y="428.1" width="1.5" height="10.0"/><rect x="633.9" y="425.5" width="1.6" height="11.9"/><rect x="635.6" y="426.3" width="1.8" height="15.5"/><rect x="637.3" y="424.1" width="2.0" height="16.1"/><rect x="639.3" y="428.2" width="2.2" height="11.1"/><rect x="641.5" y="428.3" width="1.3" height="8.5"/><rect x="642.8" y="430.2" width="1.8" height="5.5"/><rect x="644.6" y="433.3" width="1.3" height="1.5"/><path d="M895.2,383.3 L899.8,383.3 L901.9,417.3 L904.0,420.8 L905.0,424.3 L905.5,427.1 L905.8,429.6 L905.8,431.3 L905.8,436.3 L889.2,436.3 L889.2,431.3 L889.2,429.6 L889.5,427.1 L890.0,424.3 L891.0,420.8 L893.1,417.3Z"/><rect x="889.5" y="431.9" width="1.2" height="3.4"/><rect x="890.7" y="430.3" width="1.4" height="5.5"/><rect x="892.1" y="427.2" width="1.4" height="10.1"/><rect x="893.6" y="426.3" width="1.3" height="10.9"/><rect x="894.8" y="423.3" width="1.3" height="17.2"/><rect x="896.1" y="424.0" width="2.0" height="16.0"/><rect x="898.1" y="423.6" width="1.6" height="17.3"/><rect x="899.7" y="427.6" width="2.1" height="9.9"/><rect x="901.8" y="427.5" width="1.5" height="8.7"/><rect x="903.3" y="430.1" width="1.5" height="6.3"/><rect x="904.8" y="433.3" width="1.5" height="1.5"/><path d="M615.4,410.0 L618.9,410.0 L620.2,433.4 L621.4,433.4 L622.0,433.4 L622.3,433.4 L622.4,433.4 L622.4,433.4 L622.4,438.4 L611.9,438.4 L611.9,433.4 L611.9,433.4 L612.1,433.4 L612.4,433.4 L613.0,433.4 L614.2,433.4Z"/><path d="M915.6,410.0 L919.1,410.0 L920.4,433.4 L921.6,433.4 L922.2,433.4 L922.5,433.4 L922.6,433.4 L922.6,433.4 L922.6,438.4 L912.1,438.4 L912.1,433.4 L912.1,433.4 L912.3,433.4 L912.6,433.4 L913.2,433.4 L914.4,433.4Z"/><path d="M581.3,383.0 L585.8,383.0 L587.4,421.1 L589.0,424.8 L589.8,428.6 L590.2,431.6 L590.3,434.3 L590.3,436.1 L590.3,441.1 L576.8,441.1 L576.8,436.1 L576.8,434.3 L577.0,431.6 L577.4,428.6 L578.2,424.8 L579.8,421.1Z"/><rect x="577.6" y="436.4" width="1.2" height="3.5"/><rect x="578.8" y="432.9" width="1.3" height="7.5"/><rect x="580.2" y="429.4" width="1.9" height="11.1"/><rect x="582.1" y="427.2" width="2.1" height="14.2"/><rect x="584.2" y="426.4" width="1.3" height="14.8"/><rect x="585.5" y="431.7" width="1.2" height="9.7"/><rect x="586.7" y="432.9" width="1.4" height="7.7"/><rect x="588.1" y="436.5" width="1.3" height="3.5"/><rect x="589.4" y="438.1" width="1.5" height="1.5"/><path d="M948.8,383.0 L953.2,383.0 L954.8,421.1 L956.4,424.8 L957.2,428.6 L957.6,431.6 L957.8,434.3 L957.8,436.1 L957.8,441.1 L944.2,441.1 L944.2,436.1 L944.2,434.3 L944.4,431.6 L944.8,428.6 L945.6,424.8 L947.2,421.1Z"/><rect x="945.0" y="435.5" width="1.6" height="4.7"/><rect x="946.6" y="432.0" width="1.6" height="9.0"/><rect x="948.2" y="432.2" width="1.8" height="8.3"/><rect x="950.1" y="430.2" width="2.2" height="11.1"/><rect x="952.2" y="428.5" width="1.6" height="11.8"/><rect x="953.8" y="434.1" width="1.6" height="6.4"/><rect x="955.4" y="436.6" width="2.0" height="3.2"/></g><rect x="765.3" y="279.6" width="4" height="25" fill="#ff0000"/><g fill="#ff0000"><path d="M764.3,299 L770.3,299 L773.3,308 L778.3,325 L782.3,340 L784.3,345 L778.3,347 L767.3,333 L756.3,347 L750.3,345 L752.3,340 L756.3,325 L761.3,308Z"/><rect x="752.3" y="323.6" width="2.3" height="5.0"/><rect x="754.6" y="321.4" width="1.8" height="9.1"/><rect x="756.4" y="320.3" width="2.3" height="11.5"/><rect x="758.7" y="313.8" width="2.3" height="21.2"/><rect x="761.0" y="314.6" width="1.6" height="24.2"/><rect x="762.6" y="309.3" width="2.5" height="24.2"/><rect x="765.1" y="312.8" width="2.4" height="23.9"/><rect x="767.5" y="310.4" width="1.9" height="23.6"/><rect x="769.4" y="308.3" width="1.7" height="24.6"/><rect x="771.0" y="317.1" width="1.9" height="18.7"/><rect x="772.9" y="318.1" width="1.6" height="19.4"/><rect x="774.5" y="314.3" width="1.7" height="17.9"/><rect x="776.2" y="318.9" width="2.3" height="14.3"/><rect x="778.5" y="322.5" width="2.5" height="8.2"/><rect x="781.0" y="324.8" width="1.6" height="3.2"/><path d="M753.3,338 L716.5,413.5 L703.3,424" fill="none" stroke="#ff0000" stroke-width="4.6"/><path d="M781.3,338 L818.0999999999999,413.5 L831.3,424" fill="none" stroke="#ff0000" stroke-width="4.6"/></g></g><rect x="81.6" y="37.7" width="395.4" height="10.099999999999994" fill="url(#jet)" stroke="#222" stroke-width="1"/><line x1="180.45" y1="37.7" x2="180.45" y2="40.7" stroke="#222" stroke-width="0.8"/><line x1="279.29999999999995" y1="37.7" x2="279.29999999999995" y2="40.7" stroke="#222" stroke-width="0.8"/><line x1="378.15" y1="37.7" x2="378.15" y2="40.7" stroke="#222" stroke-width="0.8"/><text x="180.5" y="23.6" font-size="30" text-anchor="middle" letter-spacing="-1">-0.5</text><text x="279.8" y="23.6" font-size="30" text-anchor="middle" >0</text><text x="378.3" y="23.6" font-size="30" text-anchor="middle" letter-spacing="-1">0.5</text><text x="71.5" y="142.2" font-size="32" text-anchor="end" >-4</text><text x="71.3" y="229.2" font-size="32" text-anchor="end" >-6</text><text x="125.4" y="267.8" font-size="32" text-anchor="middle" >-4</text><text x="209.9" y="267.8" font-size="32" text-anchor="middle" >-2</text><text x="295.2" y="267.8" font-size="32" text-anchor="middle" >0</text><text x="379" y="267.8" font-size="32" text-anchor="middle" >2</text><text x="464.4" y="267.8" font-size="32" text-anchor="middle" >4</text><text x="73.3" y="341.5" font-size="32" text-anchor="end" >-4</text><text x="73.3" y="418.3" font-size="32" text-anchor="end" >-6</text><text x="135.5" y="495.8" font-size="32" text-anchor="middle" >-5</text><text x="273.9" y="495.8" font-size="32" text-anchor="middle" >0</text><text x="410.6" y="495.8" font-size="32" text-anchor="middle" >5</text><text transform="translate(26.5,184) rotate(-90)" font-size="35">x/L<tspan font-size="26.5" dy="17.4">NL</tspan></text><text transform="translate(31.3,406) rotate(-90)" font-size="35">x/L<tspan font-size="26.5" dy="17.2">NL</tspan></text><text x="240" y="523" font-size="32"><tspan font-style="italic">ω</tspan>/<tspan font-style="italic">ω</tspan><tspan font-size="28" dy="17">ch</tspan></text><text x="733.5" y="523.5" font-size="32"><tspan font-style="italic">ω</tspan>/<tspan font-style="italic">ω</tspan><tspan font-size="28" dy="17">ch</tspan></text><rect x="576.4" y="13.2" width="374.30000000000007" height="193.3" fill="none" stroke="#808080" stroke-width="1.2"/><rect x="580" y="263.5" width="374.70000000000005" height="193.5" fill="none" stroke="#808080" stroke-width="1.2"/><line x1="576.4" y1="13.199999999999989" x2="579.4" y2="13.199999999999989" stroke="#808080" stroke-width="1"/><text x="567.4" y="24.49999999999999" font-size="32" text-anchor="end" >50</text><line x1="576.4" y1="70.05294117647057" x2="579.4" y2="70.05294117647057" stroke="#808080" stroke-width="1"/><text x="567.4" y="81.35294117647057" font-size="32" text-anchor="end" >0</text><line x1="576.4" y1="126.90588235294118" x2="579.4" y2="126.90588235294118" stroke="#808080" stroke-width="1"/><text x="567.4" y="138.2058823529412" font-size="32" text-anchor="end" >-50</text><line x1="576.4" y1="183.75882352941176" x2="579.4" y2="183.75882352941176" stroke="#808080" stroke-width="1"/><text x="567.4" y="195.05882352941177" font-size="32" text-anchor="end" >-100</text><line x1="576.4" y1="206.5" x2="576.4" y2="203.5" stroke="#808080" stroke-width="1"/><text x="576.4" y="244.5" font-size="32" text-anchor="middle" >-10</text><line x1="763.55" y1="206.5" x2="763.55" y2="203.5" stroke="#808080" stroke-width="1"/><text x="763.55" y="244.5" font-size="32" text-anchor="middle" >0</text><line x1="950.7" y1="206.5" x2="950.7" y2="203.5" stroke="#808080" stroke-width="1"/><text x="950.7" y="244.5" font-size="32" text-anchor="middle" >10</text><line x1="580" y1="263.5" x2="583" y2="263.5" stroke="#808080" stroke-width="1"/><text x="570.5" y="274.3" font-size="32" text-anchor="end" >50</text><line x1="580" y1="307.47727272727275" x2="583" y2="307.47727272727275" stroke="#808080" stroke-width="1"/><text x="570.5" y="318.27727272727276" font-size="32" text-anchor="end" >0</text><line x1="580" y1="351.4545454545455" x2="583" y2="351.4545454545455" stroke="#808080" stroke-width="1"/><text x="570.5" y="362.2545454545455" font-size="32" text-anchor="end" >-50</text><line x1="580" y1="395.4318181818182" x2="583" y2="395.4318181818182" stroke="#808080" stroke-width="1"/><text x="570.5" y="406.2318181818182" font-size="32" text-anchor="end" >-100</text><line x1="580" y1="439.40909090909093" x2="583" y2="439.40909090909093" stroke="#808080" stroke-width="1"/><text x="570.5" y="450.20909090909095" font-size="32" text-anchor="end" >-150</text><line x1="580.0" y1="457" x2="580.0" y2="454" stroke="#808080" stroke-width="1"/><text x="580.0" y="495.5" font-size="32" text-anchor="middle" >-10</text><line x1="767.35" y1="457" x2="767.35" y2="454" stroke="#808080" stroke-width="1"/><text x="767.35" y="495.5" font-size="32" text-anchor="middle" >0</text><line x1="954.7" y1="457" x2="954.7" y2="454" stroke="#808080" stroke-width="1"/><text x="954.7" y="495.5" font-size="32" text-anchor="middle" >10</text><text x="586.2" y="42.0" font-size="28" text-anchor="start" >(b)</text><text x="592.6" y="292.4" font-size="28" text-anchor="start" >(d)</text><text x="96" y="80" font-size="28.5" text-anchor="start" >(a)</text><text x="103.5" y="305.2" font-size="28.5" text-anchor="start" >(c)</text><text transform="translate(514.5,173.8) rotate(-90)" font-size="34">I<tspan font-size="26" dy="17.4">N</tspan><tspan dy="-17.4">(</tspan><tspan font-style="italic">ω</tspan>)[dB]</text><text transform="translate(508.5,437.2) rotate(-90)" font-size="34">I<tspan font-size="26" dy="17.4">N</tspan><tspan dy="-17.4">(</tspan><tspan font-style="italic">ω</tspan>)[dB]</text></svg></body></html>
